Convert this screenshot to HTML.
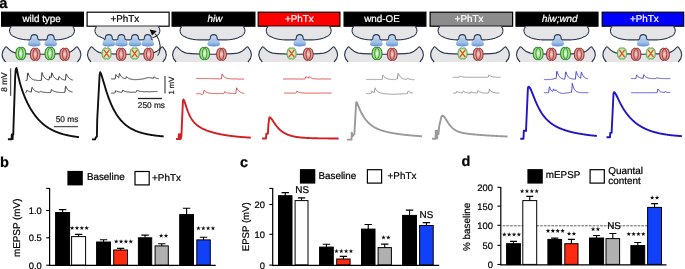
<!DOCTYPE html>
<html><head><meta charset="utf-8"><style>html,body{margin:0;padding:0;background:#fff;overflow:hidden}svg{display:block;text-rendering:geometricPrecision;will-change:transform}text{stroke-width:0.22px}</style></head>
<body><svg width="685" height="269" viewBox="0 0 685 269" font-family="Liberation Sans, sans-serif"><rect width="685" height="269" fill="#fff"/><defs>
<radialGradient id="gG" cx="0.5" cy="0.5" r="0.6"><stop offset="0" stop-color="#e2ffd4"/><stop offset="0.5" stop-color="#a6e590"/><stop offset="1" stop-color="#4aa844"/></radialGradient>
<radialGradient id="gR" cx="0.5" cy="0.5" r="0.6"><stop offset="0" stop-color="#f8d2ce"/><stop offset="0.5" stop-color="#dc928e"/><stop offset="1" stop-color="#ac4a46"/></radialGradient>
<radialGradient id="gGx" cx="0.5" cy="0.5" r="0.6"><stop offset="0" stop-color="#f4ffe0"/><stop offset="0.6" stop-color="#c6ebb0"/><stop offset="1" stop-color="#7cc070"/></radialGradient>
<linearGradient id="gB" x1="0" y1="0" x2="0" y2="1"><stop offset="0" stop-color="#cfe0f5"/><stop offset="0.6" stop-color="#b4cdef"/><stop offset="1" stop-color="#9dbde8"/></linearGradient>
<linearGradient id="gBase" x1="0" y1="0" x2="0" y2="1"><stop offset="0" stop-color="#c2d6f0"/><stop offset="0.55" stop-color="#94b6e3"/><stop offset="1" stop-color="#6090d0"/></linearGradient>
<filter id="blur" x="-20%" y="-40%" width="140%" height="180%"><feGaussianBlur stdDeviation="0.35"/></filter>
</defs><text x="-0.8" y="8.2" font-size="14.8" font-weight="bold" stroke="#000">a</text><rect x="1.60" y="12.2" width="81.80" height="14.0" fill="#000" stroke="#000" stroke-width="1.2"/><text x="41.60" y="22.2" font-size="9.85" fill="#fff" text-anchor="middle" stroke="#fff">wild type</text><rect x="87.10" y="12.2" width="82.00" height="14.0" fill="#fff" stroke="#000" stroke-width="1.2"/><text x="124.80" y="22.2" font-size="9.85" fill="#000" text-anchor="middle" stroke="#000">+PhTx</text><rect x="172.10" y="12.2" width="82.80" height="14.0" fill="#000" stroke="#000" stroke-width="1.2"/><text x="214.90" y="22.2" font-size="9.85" fill="#fff" text-anchor="middle" font-style="italic" stroke="#fff">hiw</text><rect x="258.20" y="12.2" width="81.70" height="14.0" fill="#ff0000" stroke="#000" stroke-width="1.2"/><text x="299.40" y="22.2" font-size="9.85" fill="#fff" text-anchor="middle" stroke="#fff">+PhTx</text><rect x="344.10" y="12.2" width="81.80" height="14.0" fill="#000" stroke="#000" stroke-width="1.2"/><text x="382.00" y="22.2" font-size="9.85" fill="#fff" text-anchor="middle" stroke="#fff">wnd-OE</text><rect x="430.10" y="12.2" width="82.50" height="14.0" fill="#8c8c8c" stroke="#000" stroke-width="1.2"/><text x="469.10" y="22.2" font-size="9.85" fill="#fff" text-anchor="middle" stroke="#fff">+PhTx</text><rect x="516.00" y="12.2" width="82.00" height="14.0" fill="#000" stroke="#000" stroke-width="1.2"/><text x="559.70" y="22.2" font-size="9.85" fill="#fff" text-anchor="middle" font-style="italic" stroke="#fff">hiw;wnd</text><rect x="602.20" y="12.2" width="81.50" height="14.0" fill="#0000ff" stroke="#000" stroke-width="1.2"/><text x="644.30" y="22.2" font-size="9.85" fill="#fff" text-anchor="middle" stroke="#fff">+PhTx</text><path d="M11.30,26.5 C8.30,29.5 9.30,34.5 13.90,36.6 C18.00,38.8 23.00,39.7 29.00,39.9 L55.00,39.9 C61.00,39.7 66.00,38.6 70.10,36.6 C74.70,34.5 75.70,29.5 72.70,26.5 Z" fill="#e5e5e8"/><path d="M29.90,39.8 L38.70,39.8 C39.80,40.6 40.60,42.6 40.60,44.2 C40.60,45.9 37.30,46.4 34.30,46.4 C31.30,46.4 28.00,45.9 28.00,44.2 C28.00,42.6 28.80,40.6 29.90,39.8 Z" fill="url(#gBase)" filter="url(#blur)"/><path d="M30.90,41.2 L30.90,38 C30.90,36.1 32.42,34.6 34.30,34.6 C36.18,34.6 37.70,36.1 37.70,38 L37.70,41.2 Z" fill="url(#gB)"/><path d="M46.30,39.8 L55.10,39.8 C56.20,40.6 57.00,42.6 57.00,44.2 C57.00,45.9 53.70,46.4 50.70,46.4 C47.70,46.4 44.40,45.9 44.40,44.2 C44.40,42.6 45.20,40.6 46.30,39.8 Z" fill="url(#gBase)" filter="url(#blur)"/><path d="M47.30,41.2 L47.30,38 C47.30,36.1 48.82,34.6 50.70,34.6 C52.58,34.6 54.10,36.1 54.10,38 L54.10,41.2 Z" fill="url(#gB)"/><path d="M11.30,26.50 L10.95,26.89 L10.63,27.29 L10.36,27.71 L10.13,28.14 L9.94,28.59 L9.79,29.05 L9.69,29.51 L9.62,29.99 L9.59,30.46 L9.60,30.94 L9.66,31.41 L9.75,31.89 L9.88,32.36 L10.05,32.82 L10.26,33.27 L10.51,33.71 L10.80,34.14 L11.13,34.56 L11.50,34.95 L11.90,35.33 L12.34,35.69 L12.83,36.02 L13.34,36.32 L13.90,36.60 L14.42,36.87 L14.94,37.12 L15.48,37.37 L16.03,37.59 L16.58,37.81 L17.15,38.02 L17.72,38.21 L18.30,38.39 L18.90,38.56 L19.50,38.72 L20.11,38.86 L20.74,39.00 L21.37,39.13 L22.01,39.24 L22.67,39.35 L23.33,39.44 L24.00,39.53 L24.69,39.61 L25.38,39.68 L26.08,39.74 L26.80,39.79 L27.52,39.84 L28.26,39.87 L29.00,39.90 L29.50,39.90 L30.00,39.90 M38.50,39.90 L39.00,39.90 L39.50,39.90 L40.00,39.90 L40.50,39.90 L41.00,39.90 L41.50,39.90 L42.00,39.90 L42.50,39.90 L43.00,39.90 L43.50,39.90 L44.00,39.90 L44.50,39.90 L45.00,39.90 L45.50,39.90 L46.00,39.90 L46.50,39.90 M55.00,39.90 L55.74,39.87 L56.48,39.84 L57.20,39.79 L57.92,39.74 L58.62,39.68 L59.31,39.61 L60.00,39.53 L60.67,39.44 L61.33,39.35 L61.99,39.24 L62.63,39.13 L63.26,39.00 L63.89,38.86 L64.50,38.72 L65.10,38.56 L65.70,38.39 L66.28,38.21 L66.85,38.02 L67.42,37.81 L67.97,37.59 L68.52,37.37 L69.06,37.12 L69.58,36.87 L70.10,36.60 L70.66,36.32 L71.17,36.02 L71.66,35.69 L72.10,35.33 L72.50,34.95 L72.87,34.56 L73.20,34.14 L73.49,33.71 L73.74,33.27 L73.95,32.82 L74.12,32.36 L74.25,31.89 L74.34,31.41 L74.40,30.94 L74.41,30.46 L74.38,29.99 L74.31,29.51 L74.21,29.05 L74.06,28.59 L73.87,28.14 L73.64,27.71 L73.37,27.29 L73.05,26.89 L72.70,26.50 M29.30,39.9 C30.50,39.9 30.90,39 30.90,38 C30.90,36.1 32.42,34.6 34.30,34.6 C36.18,34.6 37.70,36.1 37.70,38 C37.70,39 38.10,39.9 39.30,39.9 M45.70,39.9 C46.90,39.9 47.30,39 47.30,38 C47.30,36.1 48.82,34.6 50.70,34.6 C52.58,34.6 54.10,36.1 54.10,38 C54.10,39 54.50,39.9 55.70,39.9 " fill="none" stroke="#2e3a50" stroke-width="1.1" stroke-linejoin="round"/><path d="M5.60,62 C2.20,58.5 0.40,53 5.40,47.2 C5.80,46.7 6.30,46.7 6.80,47.2 C9.00,49.6 12.00,52.4 16.00,53.1 C27.00,54.6 56.00,54.6 67.00,53.1 C71.00,52.4 74.00,49.6 76.20,47.2 C76.70,46.7 77.20,46.7 77.60,47.2 C82.60,53 80.80,58.5 77.40,62 Z" fill="#e5e5e8"/><path d="M5.60,62 C2.20,58.5 0.40,53 5.40,47.2 C5.80,46.7 6.30,46.7 6.80,47.2 C9.00,49.6 12.00,52.4 16.00,53.1 C27.00,54.6 56.00,54.6 67.00,53.1 C71.00,52.4 74.00,49.6 76.20,47.2 C76.70,46.7 77.20,46.7 77.60,47.2 C82.60,53 80.80,58.5 77.40,62" fill="none" stroke="#2e3a50" stroke-width="1.1"/><path d="M20.80,47.75 C22.20,46.65 25.75,47.45 25.75,53.50 C25.75,59.55 22.20,60.35 20.80,59.25 C19.40,60.35 15.85,59.55 15.85,53.50 C15.85,47.45 19.40,46.65 20.80,47.75Z" fill="url(#gG)" stroke="#237a20" stroke-width="0.95"/><path d="M20.35,47.75 C17.90,50.50 17.90,56.50 20.35,59.25" stroke="#2a8226" stroke-width="0.85" fill="none"/><path d="M21.25,47.75 C23.70,50.50 23.70,56.50 21.25,59.25" stroke="#2a8226" stroke-width="0.85" fill="none"/><path d="M19.38,48.05 C16.25,50.50 16.25,56.50 19.38,58.95" stroke="#b6eaa0" stroke-width="0.7" fill="none"/><path d="M22.22,48.05 C25.35,50.50 25.35,56.50 22.22,58.95" stroke="#b6eaa0" stroke-width="0.7" fill="none"/><path d="M35.20,48.60 C36.60,47.50 40.05,48.30 40.05,54.30 C40.05,60.30 36.60,61.10 35.20,60.00 C33.80,61.10 30.35,60.30 30.35,54.30 C30.35,48.30 33.80,47.50 35.20,48.60Z" fill="url(#gR)" stroke="#8e2e2c" stroke-width="0.95"/><path d="M34.76,48.60 C32.36,51.30 32.36,57.30 34.76,60.00" stroke="#922e2e" stroke-width="0.85" fill="none"/><path d="M35.64,48.60 C38.04,51.30 38.04,57.30 35.64,60.00" stroke="#922e2e" stroke-width="0.85" fill="none"/><path d="M33.81,48.90 C30.75,51.30 30.75,57.30 33.81,59.70" stroke="#eab4b0" stroke-width="0.7" fill="none"/><path d="M36.59,48.90 C39.65,51.30 39.65,57.30 36.59,59.70" stroke="#eab4b0" stroke-width="0.7" fill="none"/><path d="M50.00,47.75 C51.40,46.65 54.95,47.45 54.95,53.50 C54.95,59.55 51.40,60.35 50.00,59.25 C48.60,60.35 45.05,59.55 45.05,53.50 C45.05,47.45 48.60,46.65 50.00,47.75Z" fill="url(#gG)" stroke="#237a20" stroke-width="0.95"/><path d="M49.55,47.75 C47.10,50.50 47.10,56.50 49.55,59.25" stroke="#2a8226" stroke-width="0.85" fill="none"/><path d="M50.45,47.75 C52.90,50.50 52.90,56.50 50.45,59.25" stroke="#2a8226" stroke-width="0.85" fill="none"/><path d="M48.58,48.05 C45.45,50.50 45.45,56.50 48.58,58.95" stroke="#b6eaa0" stroke-width="0.7" fill="none"/><path d="M51.42,48.05 C54.55,50.50 54.55,56.50 51.42,58.95" stroke="#b6eaa0" stroke-width="0.7" fill="none"/><path d="M64.70,48.60 C66.10,47.50 69.55,48.30 69.55,54.30 C69.55,60.30 66.10,61.10 64.70,60.00 C63.30,61.10 59.85,60.30 59.85,54.30 C59.85,48.30 63.30,47.50 64.70,48.60Z" fill="url(#gR)" stroke="#8e2e2c" stroke-width="0.95"/><path d="M64.26,48.60 C61.86,51.30 61.86,57.30 64.26,60.00" stroke="#922e2e" stroke-width="0.85" fill="none"/><path d="M65.14,48.60 C67.54,51.30 67.54,57.30 65.14,60.00" stroke="#922e2e" stroke-width="0.85" fill="none"/><path d="M63.31,48.90 C60.25,51.30 60.25,57.30 63.31,59.70" stroke="#eab4b0" stroke-width="0.7" fill="none"/><path d="M66.09,48.90 C69.15,51.30 69.15,57.30 66.09,59.70" stroke="#eab4b0" stroke-width="0.7" fill="none"/><path d="M96.70,26.5 C93.70,29.5 94.70,34.5 99.30,36.6 C103.40,38.8 108.40,39.7 114.40,39.9 L140.40,39.9 C146.40,39.7 151.40,38.6 155.50,36.6 C160.10,34.5 161.10,29.5 158.10,26.5 Z" fill="#e5e5e8"/><path d="M104.40,39.8 L113.20,39.8 C114.30,40.6 115.10,42.6 115.10,44.2 C115.10,45.9 111.80,46.4 108.80,46.4 C105.80,46.4 102.50,45.9 102.50,44.2 C102.50,42.6 103.30,40.6 104.40,39.8 Z" fill="url(#gBase)" filter="url(#blur)"/><path d="M105.40,41.2 L105.40,38 C105.40,36.1 106.92,34.6 108.80,34.6 C110.68,34.6 112.20,36.1 112.20,38 L112.20,41.2 Z" fill="url(#gB)"/><path d="M117.00,39.8 L125.80,39.8 C126.90,40.6 127.70,42.6 127.70,44.2 C127.70,45.9 124.40,46.4 121.40,46.4 C118.40,46.4 115.10,45.9 115.10,44.2 C115.10,42.6 115.90,40.6 117.00,39.8 Z" fill="url(#gBase)" filter="url(#blur)"/><path d="M118.00,41.2 L118.00,38 C118.00,36.1 119.52,34.6 121.40,34.6 C123.28,34.6 124.80,36.1 124.80,38 L124.80,41.2 Z" fill="url(#gB)"/><path d="M130.60,39.8 L139.40,39.8 C140.50,40.6 141.30,42.6 141.30,44.2 C141.30,45.9 138.00,46.4 135.00,46.4 C132.00,46.4 128.70,45.9 128.70,44.2 C128.70,42.6 129.50,40.6 130.60,39.8 Z" fill="url(#gBase)" filter="url(#blur)"/><path d="M131.60,41.2 L131.60,38 C131.60,36.1 133.12,34.6 135.00,34.6 C136.88,34.6 138.40,36.1 138.40,38 L138.40,41.2 Z" fill="url(#gB)"/><path d="M143.40,39.8 L152.20,39.8 C153.30,40.6 154.10,42.6 154.10,44.2 C154.10,45.9 150.80,46.4 147.80,46.4 C144.80,46.4 141.50,45.9 141.50,44.2 C141.50,42.6 142.30,40.6 143.40,39.8 Z" fill="url(#gBase)" filter="url(#blur)"/><path d="M144.40,41.2 L144.40,38 C144.40,36.1 145.92,34.6 147.80,34.6 C149.68,34.6 151.20,36.1 151.20,38 L151.20,41.2 Z" fill="url(#gB)"/><path d="M96.70,26.50 L96.35,26.89 L96.03,27.29 L95.76,27.71 L95.53,28.14 L95.34,28.59 L95.19,29.05 L95.09,29.51 L95.02,29.99 L94.99,30.46 L95.00,30.94 L95.06,31.41 L95.15,31.89 L95.28,32.36 L95.45,32.82 L95.66,33.27 L95.91,33.71 L96.20,34.14 L96.53,34.56 L96.90,34.95 L97.30,35.33 L97.74,35.69 L98.23,36.02 L98.74,36.32 L99.30,36.60 L99.82,36.87 L100.34,37.12 L100.88,37.37 L101.43,37.59 L101.98,37.81 L102.55,38.02 L103.12,38.21 L103.70,38.39 L104.30,38.56 M113.66,39.87 L114.40,39.90 L114.90,39.90 L115.40,39.90 L115.90,39.90 L116.40,39.90 L116.90,39.90 M125.90,39.90 L126.40,39.90 L126.90,39.90 L127.40,39.90 L127.90,39.90 L128.40,39.90 L128.90,39.90 L129.40,39.90 L129.90,39.90 L130.40,39.90 M139.40,39.90 L139.90,39.90 L140.40,39.90 L141.14,39.87 L141.88,39.84 L142.60,39.79 L143.32,39.74 M152.25,38.02 L152.82,37.81 L153.37,37.59 L153.92,37.37 L154.46,37.12 L154.98,36.87 L155.50,36.60 L156.06,36.32 L156.57,36.02 L157.06,35.69 L157.50,35.33 L157.90,34.95 L158.27,34.56 L158.60,34.14 L158.89,33.71 L159.14,33.27 L159.35,32.82 L159.52,32.36 L159.65,31.89 L159.74,31.41 L159.80,30.94 L159.81,30.46 L159.78,29.99 L159.71,29.51 L159.61,29.05 L159.46,28.59 L159.27,28.14 L159.04,27.71 L158.77,27.29 L158.45,26.89 L158.10,26.50 M103.80,39.9 C105.00,39.9 105.40,39 105.40,38 C105.40,36.1 106.92,34.6 108.80,34.6 C110.68,34.6 112.20,36.1 112.20,38 C112.20,39 112.60,39.9 113.80,39.9 M116.40,39.9 C117.60,39.9 118.00,39 118.00,38 C118.00,36.1 119.52,34.6 121.40,34.6 C123.28,34.6 124.80,36.1 124.80,38 C124.80,39 125.20,39.9 126.40,39.9 M130.00,39.9 C131.20,39.9 131.60,39 131.60,38 C131.60,36.1 133.12,34.6 135.00,34.6 C136.88,34.6 138.40,36.1 138.40,38 C138.40,39 138.80,39.9 140.00,39.9 M142.80,39.9 C144.00,39.9 144.40,39 144.40,38 C144.40,36.1 145.92,34.6 147.80,34.6 C149.68,34.6 151.20,36.1 151.20,38 C151.20,39 151.60,39.9 152.80,39.9 " fill="none" stroke="#2e3a50" stroke-width="1.1" stroke-linejoin="round"/><path d="M91.00,62 C87.60,58.5 85.80,53 90.80,47.2 C91.20,46.7 91.70,46.7 92.20,47.2 C94.40,49.6 97.40,52.4 101.40,53.1 C112.40,54.6 141.40,54.6 152.40,53.1 C156.40,52.4 159.40,49.6 161.60,47.2 C162.10,46.7 162.60,46.7 163.00,47.2 C168.00,53 166.20,58.5 162.80,62 Z" fill="#e5e5e8"/><path d="M91.00,62 C87.60,58.5 85.80,53 90.80,47.2 C91.20,46.7 91.70,46.7 92.20,47.2 C94.40,49.6 97.40,52.4 101.40,53.1 C112.40,54.6 141.40,54.6 152.40,53.1 C156.40,52.4 159.40,49.6 161.60,47.2 C162.10,46.7 162.60,46.7 163.00,47.2 C168.00,53 166.20,58.5 162.80,62" fill="none" stroke="#2e3a50" stroke-width="1.1"/><path d="M106.60,48.30 C108.00,47.20 111.20,48.00 111.20,53.50 C111.20,59.00 108.00,59.80 106.60,58.70 C105.20,59.80 102.00,59.00 102.00,53.50 C102.00,48.00 105.20,47.20 106.60,48.30Z" fill="url(#gGx)" stroke="#64a858" stroke-width="0.95"/><path d="M103.90,49.90 L109.30,57.10 M109.30,49.90 L103.90,57.10" stroke="#ec4a26" stroke-width="1.35"/><path d="M121.10,48.60 C122.50,47.50 125.95,48.30 125.95,54.30 C125.95,60.30 122.50,61.10 121.10,60.00 C119.70,61.10 116.25,60.30 116.25,54.30 C116.25,48.30 119.70,47.50 121.10,48.60Z" fill="url(#gR)" stroke="#8e2e2c" stroke-width="0.95"/><path d="M120.66,48.60 C118.26,51.30 118.26,57.30 120.66,60.00" stroke="#922e2e" stroke-width="0.85" fill="none"/><path d="M121.54,48.60 C123.94,51.30 123.94,57.30 121.54,60.00" stroke="#922e2e" stroke-width="0.85" fill="none"/><path d="M119.71,48.90 C116.65,51.30 116.65,57.30 119.71,59.70" stroke="#eab4b0" stroke-width="0.7" fill="none"/><path d="M122.49,48.90 C125.55,51.30 125.55,57.30 122.49,59.70" stroke="#eab4b0" stroke-width="0.7" fill="none"/><path d="M134.70,48.30 C136.10,47.20 139.30,48.00 139.30,53.50 C139.30,59.00 136.10,59.80 134.70,58.70 C133.30,59.80 130.10,59.00 130.10,53.50 C130.10,48.00 133.30,47.20 134.70,48.30Z" fill="url(#gGx)" stroke="#64a858" stroke-width="0.95"/><path d="M132.00,49.90 L137.40,57.10 M137.40,49.90 L132.00,57.10" stroke="#ec4a26" stroke-width="1.35"/><path d="M148.70,48.60 C150.10,47.50 153.55,48.30 153.55,54.30 C153.55,60.30 150.10,61.10 148.70,60.00 C147.30,61.10 143.85,60.30 143.85,54.30 C143.85,48.30 147.30,47.50 148.70,48.60Z" fill="url(#gR)" stroke="#8e2e2c" stroke-width="0.95"/><path d="M148.26,48.60 C145.86,51.30 145.86,57.30 148.26,60.00" stroke="#922e2e" stroke-width="0.85" fill="none"/><path d="M149.14,48.60 C151.54,51.30 151.54,57.30 149.14,60.00" stroke="#922e2e" stroke-width="0.85" fill="none"/><path d="M147.31,48.90 C144.25,51.30 144.25,57.30 147.31,59.70" stroke="#eab4b0" stroke-width="0.7" fill="none"/><path d="M150.09,48.90 C153.15,51.30 153.15,57.30 150.09,59.70" stroke="#eab4b0" stroke-width="0.7" fill="none"/><path d="M157.7,55.5 C161.2,51 161.4,41 155.0,33.6" fill="none" stroke="#111" stroke-width="1.0"/><path d="M149.7,29.6 L156.8,31.0 L152.0,35.6 Z" fill="#111"/><path d="M181.80,26.5 C178.80,29.5 179.80,34.5 184.40,36.6 C188.50,38.8 193.50,39.7 199.50,39.9 L225.50,39.9 C231.50,39.7 236.50,38.6 240.60,36.6 C245.20,34.5 246.20,29.5 243.20,26.5 Z" fill="#e5e5e8"/><path d="M209.30,39.8 L218.10,39.8 C219.20,40.6 220.00,42.6 220.00,44.2 C220.00,45.9 216.70,46.4 213.70,46.4 C210.70,46.4 207.40,45.9 207.40,44.2 C207.40,42.6 208.20,40.6 209.30,39.8 Z" fill="url(#gBase)" filter="url(#blur)"/><path d="M210.30,41.2 L210.30,38 C210.30,36.1 211.82,34.6 213.70,34.6 C215.58,34.6 217.10,36.1 217.10,38 L217.10,41.2 Z" fill="url(#gB)"/><path d="M181.80,26.50 L181.45,26.89 L181.13,27.29 L180.86,27.71 L180.63,28.14 L180.44,28.59 L180.29,29.05 L180.19,29.51 L180.12,29.99 L180.09,30.46 L180.10,30.94 L180.16,31.41 L180.25,31.89 L180.38,32.36 L180.55,32.82 L180.76,33.27 L181.01,33.71 L181.30,34.14 L181.63,34.56 L182.00,34.95 L182.40,35.33 L182.84,35.69 L183.33,36.02 L183.84,36.32 L184.40,36.60 L184.92,36.87 L185.44,37.12 L185.98,37.37 L186.53,37.59 L187.08,37.81 L187.65,38.02 L188.22,38.21 L188.80,38.39 L189.40,38.56 L190.00,38.72 L190.61,38.86 L191.24,39.00 L191.87,39.13 L192.51,39.24 L193.17,39.35 L193.83,39.44 L194.50,39.53 L195.19,39.61 L195.88,39.68 L196.58,39.74 L197.30,39.79 L198.02,39.84 L198.76,39.87 L199.50,39.90 L200.00,39.90 L200.50,39.90 L201.00,39.90 L201.50,39.90 L202.00,39.90 L202.50,39.90 L203.00,39.90 L203.50,39.90 L204.00,39.90 L204.50,39.90 L205.00,39.90 L205.50,39.90 L206.00,39.90 L206.50,39.90 L207.00,39.90 L207.50,39.90 L208.00,39.90 L208.50,39.90 L209.00,39.90 M218.00,39.90 L218.50,39.90 L219.00,39.90 L219.50,39.90 L220.00,39.90 L220.50,39.90 L221.00,39.90 L221.50,39.90 L222.00,39.90 L222.50,39.90 L223.00,39.90 L223.50,39.90 L224.00,39.90 L224.50,39.90 L225.00,39.90 L225.50,39.90 L226.24,39.87 L226.98,39.84 L227.70,39.79 L228.42,39.74 L229.12,39.68 L229.81,39.61 L230.50,39.53 L231.17,39.44 L231.83,39.35 L232.49,39.24 L233.13,39.13 L233.76,39.00 L234.39,38.86 L235.00,38.72 L235.60,38.56 L236.20,38.39 L236.78,38.21 L237.35,38.02 L237.92,37.81 L238.47,37.59 L239.02,37.37 L239.56,37.12 L240.08,36.87 L240.60,36.60 L241.16,36.32 L241.67,36.02 L242.16,35.69 L242.60,35.33 L243.00,34.95 L243.37,34.56 L243.70,34.14 L243.99,33.71 L244.24,33.27 L244.45,32.82 L244.62,32.36 L244.75,31.89 L244.84,31.41 L244.90,30.94 L244.91,30.46 L244.88,29.99 L244.81,29.51 L244.71,29.05 L244.56,28.59 L244.37,28.14 L244.14,27.71 L243.87,27.29 L243.55,26.89 L243.20,26.50 M208.70,39.9 C209.90,39.9 210.30,39 210.30,38 C210.30,36.1 211.82,34.6 213.70,34.6 C215.58,34.6 217.10,36.1 217.10,38 C217.10,39 217.50,39.9 218.70,39.9 " fill="none" stroke="#2e3a50" stroke-width="1.1" stroke-linejoin="round"/><path d="M176.10,62 C172.70,58.5 170.90,53 175.90,47.2 C176.30,46.7 176.80,46.7 177.30,47.2 C179.50,49.6 182.50,52.4 186.50,53.1 C197.50,54.6 226.50,54.6 237.50,53.1 C241.50,52.4 244.50,49.6 246.70,47.2 C247.20,46.7 247.70,46.7 248.10,47.2 C253.10,53 251.30,58.5 247.90,62 Z" fill="#e5e5e8"/><path d="M176.10,62 C172.70,58.5 170.90,53 175.90,47.2 C176.30,46.7 176.80,46.7 177.30,47.2 C179.50,49.6 182.50,52.4 186.50,53.1 C197.50,54.6 226.50,54.6 237.50,53.1 C241.50,52.4 244.50,49.6 246.70,47.2 C247.20,46.7 247.70,46.7 248.10,47.2 C253.10,53 251.30,58.5 247.90,62" fill="none" stroke="#2e3a50" stroke-width="1.1"/><path d="M204.60,47.75 C206.00,46.65 209.55,47.45 209.55,53.50 C209.55,59.55 206.00,60.35 204.60,59.25 C203.20,60.35 199.65,59.55 199.65,53.50 C199.65,47.45 203.20,46.65 204.60,47.75Z" fill="url(#gG)" stroke="#237a20" stroke-width="0.95"/><path d="M204.15,47.75 C201.70,50.50 201.70,56.50 204.15,59.25" stroke="#2a8226" stroke-width="0.85" fill="none"/><path d="M205.05,47.75 C207.50,50.50 207.50,56.50 205.05,59.25" stroke="#2a8226" stroke-width="0.85" fill="none"/><path d="M203.18,48.05 C200.05,50.50 200.05,56.50 203.18,58.95" stroke="#b6eaa0" stroke-width="0.7" fill="none"/><path d="M206.02,48.05 C209.15,50.50 209.15,56.50 206.02,58.95" stroke="#b6eaa0" stroke-width="0.7" fill="none"/><path d="M221.50,48.60 C222.90,47.50 226.35,48.30 226.35,54.30 C226.35,60.30 222.90,61.10 221.50,60.00 C220.10,61.10 216.65,60.30 216.65,54.30 C216.65,48.30 220.10,47.50 221.50,48.60Z" fill="url(#gR)" stroke="#8e2e2c" stroke-width="0.95"/><path d="M221.06,48.60 C218.66,51.30 218.66,57.30 221.06,60.00" stroke="#922e2e" stroke-width="0.85" fill="none"/><path d="M221.94,48.60 C224.34,51.30 224.34,57.30 221.94,60.00" stroke="#922e2e" stroke-width="0.85" fill="none"/><path d="M220.11,48.90 C217.05,51.30 217.05,57.30 220.11,59.70" stroke="#eab4b0" stroke-width="0.7" fill="none"/><path d="M222.89,48.90 C225.95,51.30 225.95,57.30 222.89,59.70" stroke="#eab4b0" stroke-width="0.7" fill="none"/><path d="M268.00,26.5 C265.00,29.5 266.00,34.5 270.60,36.6 C274.70,38.8 279.70,39.7 285.70,39.9 L311.70,39.9 C317.70,39.7 322.70,38.6 326.80,36.6 C331.40,34.5 332.40,29.5 329.40,26.5 Z" fill="#e5e5e8"/><path d="M295.30,39.8 L304.10,39.8 C305.20,40.6 306.00,42.6 306.00,44.2 C306.00,45.9 302.70,46.4 299.70,46.4 C296.70,46.4 293.40,45.9 293.40,44.2 C293.40,42.6 294.20,40.6 295.30,39.8 Z" fill="url(#gBase)" filter="url(#blur)"/><path d="M296.30,41.2 L296.30,38 C296.30,36.1 297.82,34.6 299.70,34.6 C301.58,34.6 303.10,36.1 303.10,38 L303.10,41.2 Z" fill="url(#gB)"/><path d="M268.00,26.50 L267.65,26.89 L267.33,27.29 L267.06,27.71 L266.83,28.14 L266.64,28.59 L266.49,29.05 L266.39,29.51 L266.32,29.99 L266.29,30.46 L266.30,30.94 L266.36,31.41 L266.45,31.89 L266.58,32.36 L266.75,32.82 L266.96,33.27 L267.21,33.71 L267.50,34.14 L267.83,34.56 L268.20,34.95 L268.60,35.33 L269.04,35.69 L269.53,36.02 L270.04,36.32 L270.60,36.60 L271.12,36.87 L271.64,37.12 L272.18,37.37 L272.73,37.59 L273.28,37.81 L273.85,38.02 L274.42,38.21 L275.00,38.39 L275.60,38.56 L276.20,38.72 L276.81,38.86 L277.44,39.00 L278.07,39.13 L278.71,39.24 L279.37,39.35 L280.03,39.44 L280.70,39.53 L281.39,39.61 L282.08,39.68 L282.78,39.74 L283.50,39.79 L284.22,39.84 L284.96,39.87 L285.70,39.90 L286.20,39.90 L286.70,39.90 L287.20,39.90 L287.70,39.90 L288.20,39.90 L288.70,39.90 L289.20,39.90 L289.70,39.90 L290.20,39.90 L290.70,39.90 L291.20,39.90 L291.70,39.90 L292.20,39.90 L292.70,39.90 L293.20,39.90 L293.70,39.90 L294.20,39.90 L294.70,39.90 L295.20,39.90 M304.20,39.90 L304.70,39.90 L305.20,39.90 L305.70,39.90 L306.20,39.90 L306.70,39.90 L307.20,39.90 L307.70,39.90 L308.20,39.90 L308.70,39.90 L309.20,39.90 L309.70,39.90 L310.20,39.90 L310.70,39.90 L311.20,39.90 L311.70,39.90 L312.44,39.87 L313.18,39.84 L313.90,39.79 L314.62,39.74 L315.32,39.68 L316.01,39.61 L316.70,39.53 L317.37,39.44 L318.03,39.35 L318.69,39.24 L319.33,39.13 L319.96,39.00 L320.59,38.86 L321.20,38.72 L321.80,38.56 L322.40,38.39 L322.98,38.21 L323.55,38.02 L324.12,37.81 L324.67,37.59 L325.22,37.37 L325.76,37.12 L326.28,36.87 L326.80,36.60 L327.36,36.32 L327.87,36.02 L328.36,35.69 L328.80,35.33 L329.20,34.95 L329.57,34.56 L329.90,34.14 L330.19,33.71 L330.44,33.27 L330.65,32.82 L330.82,32.36 L330.95,31.89 L331.04,31.41 L331.10,30.94 L331.11,30.46 L331.08,29.99 L331.01,29.51 L330.91,29.05 L330.76,28.59 L330.57,28.14 L330.34,27.71 L330.07,27.29 L329.75,26.89 L329.40,26.50 M294.70,39.9 C295.90,39.9 296.30,39 296.30,38 C296.30,36.1 297.82,34.6 299.70,34.6 C301.58,34.6 303.10,36.1 303.10,38 C303.10,39 303.50,39.9 304.70,39.9 " fill="none" stroke="#2e3a50" stroke-width="1.1" stroke-linejoin="round"/><path d="M262.30,62 C258.90,58.5 257.10,53 262.10,47.2 C262.50,46.7 263.00,46.7 263.50,47.2 C265.70,49.6 268.70,52.4 272.70,53.1 C283.70,54.6 312.70,54.6 323.70,53.1 C327.70,52.4 330.70,49.6 332.90,47.2 C333.40,46.7 333.90,46.7 334.30,47.2 C339.30,53 337.50,58.5 334.10,62 Z" fill="#e5e5e8"/><path d="M262.30,62 C258.90,58.5 257.10,53 262.10,47.2 C262.50,46.7 263.00,46.7 263.50,47.2 C265.70,49.6 268.70,52.4 272.70,53.1 C283.70,54.6 312.70,54.6 323.70,53.1 C327.70,52.4 330.70,49.6 332.90,47.2 C333.40,46.7 333.90,46.7 334.30,47.2 C339.30,53 337.50,58.5 334.10,62" fill="none" stroke="#2e3a50" stroke-width="1.1"/><path d="M291.60,48.30 C293.00,47.20 296.20,48.00 296.20,53.50 C296.20,59.00 293.00,59.80 291.60,58.70 C290.20,59.80 287.00,59.00 287.00,53.50 C287.00,48.00 290.20,47.20 291.60,48.30Z" fill="url(#gGx)" stroke="#64a858" stroke-width="0.95"/><path d="M288.90,49.90 L294.30,57.10 M294.30,49.90 L288.90,57.10" stroke="#ec4a26" stroke-width="1.35"/><path d="M308.30,48.60 C309.70,47.50 313.15,48.30 313.15,54.30 C313.15,60.30 309.70,61.10 308.30,60.00 C306.90,61.10 303.45,60.30 303.45,54.30 C303.45,48.30 306.90,47.50 308.30,48.60Z" fill="url(#gR)" stroke="#8e2e2c" stroke-width="0.95"/><path d="M307.86,48.60 C305.46,51.30 305.46,57.30 307.86,60.00" stroke="#922e2e" stroke-width="0.85" fill="none"/><path d="M308.74,48.60 C311.14,51.30 311.14,57.30 308.74,60.00" stroke="#922e2e" stroke-width="0.85" fill="none"/><path d="M306.91,48.90 C303.85,51.30 303.85,57.30 306.91,59.70" stroke="#eab4b0" stroke-width="0.7" fill="none"/><path d="M309.69,48.90 C312.75,51.30 312.75,57.30 309.69,59.70" stroke="#eab4b0" stroke-width="0.7" fill="none"/><path d="M353.80,26.5 C350.80,29.5 351.80,34.5 356.40,36.6 C360.50,38.8 365.50,39.7 371.50,39.9 L397.50,39.9 C403.50,39.7 408.50,38.6 412.60,36.6 C417.20,34.5 418.20,29.5 415.20,26.5 Z" fill="#e5e5e8"/><path d="M371.90,39.8 L380.70,39.8 C381.80,40.6 382.60,42.6 382.60,44.2 C382.60,45.9 379.30,46.4 376.30,46.4 C373.30,46.4 370.00,45.9 370.00,44.2 C370.00,42.6 370.80,40.6 371.90,39.8 Z" fill="url(#gBase)" filter="url(#blur)"/><path d="M372.90,41.2 L372.90,38 C372.90,36.1 374.42,34.6 376.30,34.6 C378.18,34.6 379.70,36.1 379.70,38 L379.70,41.2 Z" fill="url(#gB)"/><path d="M387.60,39.8 L396.40,39.8 C397.50,40.6 398.30,42.6 398.30,44.2 C398.30,45.9 395.00,46.4 392.00,46.4 C389.00,46.4 385.70,45.9 385.70,44.2 C385.70,42.6 386.50,40.6 387.60,39.8 Z" fill="url(#gBase)" filter="url(#blur)"/><path d="M388.60,41.2 L388.60,38 C388.60,36.1 390.12,34.6 392.00,34.6 C393.88,34.6 395.40,36.1 395.40,38 L395.40,41.2 Z" fill="url(#gB)"/><path d="M353.80,26.50 L353.45,26.89 L353.13,27.29 L352.86,27.71 L352.63,28.14 L352.44,28.59 L352.29,29.05 L352.19,29.51 L352.12,29.99 L352.09,30.46 L352.10,30.94 L352.16,31.41 L352.25,31.89 L352.38,32.36 L352.55,32.82 L352.76,33.27 L353.01,33.71 L353.30,34.14 L353.63,34.56 L354.00,34.95 L354.40,35.33 L354.84,35.69 L355.33,36.02 L355.84,36.32 L356.40,36.60 L356.92,36.87 L357.44,37.12 L357.98,37.37 L358.53,37.59 L359.08,37.81 L359.65,38.02 L360.22,38.21 L360.80,38.39 L361.40,38.56 L362.00,38.72 L362.61,38.86 L363.24,39.00 L363.87,39.13 L364.51,39.24 L365.17,39.35 L365.83,39.44 L366.50,39.53 L367.19,39.61 L367.88,39.68 L368.58,39.74 L369.30,39.79 L370.02,39.84 L370.76,39.87 L371.50,39.90 L372.00,39.90 M381.00,39.90 L381.50,39.90 L382.00,39.90 L382.50,39.90 L383.00,39.90 L383.50,39.90 L384.00,39.90 L384.50,39.90 L385.00,39.90 L385.50,39.90 L386.00,39.90 L386.50,39.90 L387.00,39.90 L387.50,39.90 M396.50,39.90 L397.00,39.90 L397.50,39.90 L398.24,39.87 L398.98,39.84 L399.70,39.79 L400.42,39.74 L401.12,39.68 L401.81,39.61 L402.50,39.53 L403.17,39.44 L403.83,39.35 L404.49,39.24 L405.13,39.13 L405.76,39.00 L406.39,38.86 L407.00,38.72 L407.60,38.56 L408.20,38.39 L408.78,38.21 L409.35,38.02 L409.92,37.81 L410.47,37.59 L411.02,37.37 L411.56,37.12 L412.08,36.87 L412.60,36.60 L413.16,36.32 L413.67,36.02 L414.16,35.69 L414.60,35.33 L415.00,34.95 L415.37,34.56 L415.70,34.14 L415.99,33.71 L416.24,33.27 L416.45,32.82 L416.62,32.36 L416.75,31.89 L416.84,31.41 L416.90,30.94 L416.91,30.46 L416.88,29.99 L416.81,29.51 L416.71,29.05 L416.56,28.59 L416.37,28.14 L416.14,27.71 L415.87,27.29 L415.55,26.89 L415.20,26.50 M371.30,39.9 C372.50,39.9 372.90,39 372.90,38 C372.90,36.1 374.42,34.6 376.30,34.6 C378.18,34.6 379.70,36.1 379.70,38 C379.70,39 380.10,39.9 381.30,39.9 M387.00,39.9 C388.20,39.9 388.60,39 388.60,38 C388.60,36.1 390.12,34.6 392.00,34.6 C393.88,34.6 395.40,36.1 395.40,38 C395.40,39 395.80,39.9 397.00,39.9 " fill="none" stroke="#2e3a50" stroke-width="1.1" stroke-linejoin="round"/><path d="M348.10,62 C344.70,58.5 342.90,53 347.90,47.2 C348.30,46.7 348.80,46.7 349.30,47.2 C351.50,49.6 354.50,52.4 358.50,53.1 C369.50,54.6 398.50,54.6 409.50,53.1 C413.50,52.4 416.50,49.6 418.70,47.2 C419.20,46.7 419.70,46.7 420.10,47.2 C425.10,53 423.30,58.5 419.90,62 Z" fill="#e5e5e8"/><path d="M348.10,62 C344.70,58.5 342.90,53 347.90,47.2 C348.30,46.7 348.80,46.7 349.30,47.2 C351.50,49.6 354.50,52.4 358.50,53.1 C369.50,54.6 398.50,54.6 409.50,53.1 C413.50,52.4 416.50,49.6 418.70,47.2 C419.20,46.7 419.70,46.7 420.10,47.2 C425.10,53 423.30,58.5 419.90,62" fill="none" stroke="#2e3a50" stroke-width="1.1"/><path d="M377.00,47.75 C378.40,46.65 381.95,47.45 381.95,53.50 C381.95,59.55 378.40,60.35 377.00,59.25 C375.60,60.35 372.05,59.55 372.05,53.50 C372.05,47.45 375.60,46.65 377.00,47.75Z" fill="url(#gG)" stroke="#237a20" stroke-width="0.95"/><path d="M376.55,47.75 C374.10,50.50 374.10,56.50 376.55,59.25" stroke="#2a8226" stroke-width="0.85" fill="none"/><path d="M377.45,47.75 C379.90,50.50 379.90,56.50 377.45,59.25" stroke="#2a8226" stroke-width="0.85" fill="none"/><path d="M375.58,48.05 C372.45,50.50 372.45,56.50 375.58,58.95" stroke="#b6eaa0" stroke-width="0.7" fill="none"/><path d="M378.42,48.05 C381.55,50.50 381.55,56.50 378.42,58.95" stroke="#b6eaa0" stroke-width="0.7" fill="none"/><path d="M392.20,48.60 C393.60,47.50 397.05,48.30 397.05,54.30 C397.05,60.30 393.60,61.10 392.20,60.00 C390.80,61.10 387.35,60.30 387.35,54.30 C387.35,48.30 390.80,47.50 392.20,48.60Z" fill="url(#gR)" stroke="#8e2e2c" stroke-width="0.95"/><path d="M391.76,48.60 C389.36,51.30 389.36,57.30 391.76,60.00" stroke="#922e2e" stroke-width="0.85" fill="none"/><path d="M392.64,48.60 C395.04,51.30 395.04,57.30 392.64,60.00" stroke="#922e2e" stroke-width="0.85" fill="none"/><path d="M390.81,48.90 C387.75,51.30 387.75,57.30 390.81,59.70" stroke="#eab4b0" stroke-width="0.7" fill="none"/><path d="M393.59,48.90 C396.65,51.30 396.65,57.30 393.59,59.70" stroke="#eab4b0" stroke-width="0.7" fill="none"/><path d="M439.80,26.5 C436.80,29.5 437.80,34.5 442.40,36.6 C446.50,38.8 451.50,39.7 457.50,39.9 L483.50,39.9 C489.50,39.7 494.50,38.6 498.60,36.6 C503.20,34.5 504.20,29.5 501.20,26.5 Z" fill="#e5e5e8"/><path d="M457.90,39.8 L466.70,39.8 C467.80,40.6 468.60,42.6 468.60,44.2 C468.60,45.9 465.30,46.4 462.30,46.4 C459.30,46.4 456.00,45.9 456.00,44.2 C456.00,42.6 456.80,40.6 457.90,39.8 Z" fill="url(#gBase)" filter="url(#blur)"/><path d="M458.90,41.2 L458.90,38 C458.90,36.1 460.42,34.6 462.30,34.6 C464.18,34.6 465.70,36.1 465.70,38 L465.70,41.2 Z" fill="url(#gB)"/><path d="M473.20,39.8 L482.00,39.8 C483.10,40.6 483.90,42.6 483.90,44.2 C483.90,45.9 480.60,46.4 477.60,46.4 C474.60,46.4 471.30,45.9 471.30,44.2 C471.30,42.6 472.10,40.6 473.20,39.8 Z" fill="url(#gBase)" filter="url(#blur)"/><path d="M474.20,41.2 L474.20,38 C474.20,36.1 475.72,34.6 477.60,34.6 C479.48,34.6 481.00,36.1 481.00,38 L481.00,41.2 Z" fill="url(#gB)"/><path d="M439.80,26.50 L439.45,26.89 L439.13,27.29 L438.86,27.71 L438.63,28.14 L438.44,28.59 L438.29,29.05 L438.19,29.51 L438.12,29.99 L438.09,30.46 L438.10,30.94 L438.16,31.41 L438.25,31.89 L438.38,32.36 L438.55,32.82 L438.76,33.27 L439.01,33.71 L439.30,34.14 L439.63,34.56 L440.00,34.95 L440.40,35.33 L440.84,35.69 L441.33,36.02 L441.84,36.32 L442.40,36.60 L442.92,36.87 L443.44,37.12 L443.98,37.37 L444.53,37.59 L445.08,37.81 L445.65,38.02 L446.22,38.21 L446.80,38.39 L447.40,38.56 L448.00,38.72 L448.61,38.86 L449.24,39.00 L449.87,39.13 L450.51,39.24 L451.17,39.35 L451.83,39.44 L452.50,39.53 L453.19,39.61 L453.88,39.68 L454.58,39.74 L455.30,39.79 L456.02,39.84 L456.76,39.87 L457.50,39.90 L458.00,39.90 M467.00,39.90 L467.50,39.90 L468.00,39.90 L468.50,39.90 L469.00,39.90 L469.50,39.90 L470.00,39.90 L470.50,39.90 L471.00,39.90 L471.50,39.90 L472.00,39.90 L472.50,39.90 L473.00,39.90 M482.00,39.90 L482.50,39.90 L483.00,39.90 L483.50,39.90 L484.24,39.87 L484.98,39.84 L485.70,39.79 L486.42,39.74 L487.12,39.68 L487.81,39.61 L488.50,39.53 L489.17,39.44 L489.83,39.35 L490.49,39.24 L491.13,39.13 L491.76,39.00 L492.39,38.86 L493.00,38.72 L493.60,38.56 L494.20,38.39 L494.78,38.21 L495.35,38.02 L495.92,37.81 L496.47,37.59 L497.02,37.37 L497.56,37.12 L498.08,36.87 L498.60,36.60 L499.16,36.32 L499.67,36.02 L500.16,35.69 L500.60,35.33 L501.00,34.95 L501.37,34.56 L501.70,34.14 L501.99,33.71 L502.24,33.27 L502.45,32.82 L502.62,32.36 L502.75,31.89 L502.84,31.41 L502.90,30.94 L502.91,30.46 L502.88,29.99 L502.81,29.51 L502.71,29.05 L502.56,28.59 L502.37,28.14 L502.14,27.71 L501.87,27.29 L501.55,26.89 L501.20,26.50 M457.30,39.9 C458.50,39.9 458.90,39 458.90,38 C458.90,36.1 460.42,34.6 462.30,34.6 C464.18,34.6 465.70,36.1 465.70,38 C465.70,39 466.10,39.9 467.30,39.9 M472.60,39.9 C473.80,39.9 474.20,39 474.20,38 C474.20,36.1 475.72,34.6 477.60,34.6 C479.48,34.6 481.00,36.1 481.00,38 C481.00,39 481.40,39.9 482.60,39.9 " fill="none" stroke="#2e3a50" stroke-width="1.1" stroke-linejoin="round"/><path d="M434.10,62 C430.70,58.5 428.90,53 433.90,47.2 C434.30,46.7 434.80,46.7 435.30,47.2 C437.50,49.6 440.50,52.4 444.50,53.1 C455.50,54.6 484.50,54.6 495.50,53.1 C499.50,52.4 502.50,49.6 504.70,47.2 C505.20,46.7 505.70,46.7 506.10,47.2 C511.10,53 509.30,58.5 505.90,62 Z" fill="#e5e5e8"/><path d="M434.10,62 C430.70,58.5 428.90,53 433.90,47.2 C434.30,46.7 434.80,46.7 435.30,47.2 C437.50,49.6 440.50,52.4 444.50,53.1 C455.50,54.6 484.50,54.6 495.50,53.1 C499.50,52.4 502.50,49.6 504.70,47.2 C505.20,46.7 505.70,46.7 506.10,47.2 C511.10,53 509.30,58.5 505.90,62" fill="none" stroke="#2e3a50" stroke-width="1.1"/><path d="M462.60,48.30 C464.00,47.20 467.20,48.00 467.20,53.50 C467.20,59.00 464.00,59.80 462.60,58.70 C461.20,59.80 458.00,59.00 458.00,53.50 C458.00,48.00 461.20,47.20 462.60,48.30Z" fill="url(#gGx)" stroke="#64a858" stroke-width="0.95"/><path d="M459.90,49.90 L465.30,57.10 M465.30,49.90 L459.90,57.10" stroke="#ec4a26" stroke-width="1.35"/><path d="M478.20,48.60 C479.60,47.50 483.05,48.30 483.05,54.30 C483.05,60.30 479.60,61.10 478.20,60.00 C476.80,61.10 473.35,60.30 473.35,54.30 C473.35,48.30 476.80,47.50 478.20,48.60Z" fill="url(#gR)" stroke="#8e2e2c" stroke-width="0.95"/><path d="M477.76,48.60 C475.36,51.30 475.36,57.30 477.76,60.00" stroke="#922e2e" stroke-width="0.85" fill="none"/><path d="M478.64,48.60 C481.04,51.30 481.04,57.30 478.64,60.00" stroke="#922e2e" stroke-width="0.85" fill="none"/><path d="M476.81,48.90 C473.75,51.30 473.75,57.30 476.81,59.70" stroke="#eab4b0" stroke-width="0.7" fill="none"/><path d="M479.59,48.90 C482.65,51.30 482.65,57.30 479.59,59.70" stroke="#eab4b0" stroke-width="0.7" fill="none"/><path d="M525.70,26.5 C522.70,29.5 523.70,34.5 528.30,36.6 C532.40,38.8 537.40,39.7 543.40,39.9 L569.40,39.9 C575.40,39.7 580.40,38.6 584.50,36.6 C589.10,34.5 590.10,29.5 587.10,26.5 Z" fill="#e5e5e8"/><path d="M553.30,39.8 L562.10,39.8 C563.20,40.6 564.00,42.6 564.00,44.2 C564.00,45.9 560.70,46.4 557.70,46.4 C554.70,46.4 551.40,45.9 551.40,44.2 C551.40,42.6 552.20,40.6 553.30,39.8 Z" fill="url(#gBase)" filter="url(#blur)"/><path d="M554.30,41.2 L554.30,38 C554.30,36.1 555.82,34.6 557.70,34.6 C559.58,34.6 561.10,36.1 561.10,38 L561.10,41.2 Z" fill="url(#gB)"/><path d="M525.70,26.50 L525.35,26.89 L525.03,27.29 L524.76,27.71 L524.53,28.14 L524.34,28.59 L524.19,29.05 L524.09,29.51 L524.02,29.99 L523.99,30.46 L524.00,30.94 L524.06,31.41 L524.15,31.89 L524.28,32.36 L524.45,32.82 L524.66,33.27 L524.91,33.71 L525.20,34.14 L525.53,34.56 L525.90,34.95 L526.30,35.33 L526.74,35.69 L527.23,36.02 L527.74,36.32 L528.30,36.60 L528.82,36.87 L529.34,37.12 L529.88,37.37 L530.43,37.59 L530.98,37.81 L531.55,38.02 L532.12,38.21 L532.70,38.39 L533.30,38.56 L533.90,38.72 L534.51,38.86 L535.14,39.00 L535.77,39.13 L536.41,39.24 L537.07,39.35 L537.73,39.44 L538.40,39.53 L539.09,39.61 L539.78,39.68 L540.48,39.74 L541.20,39.79 L541.92,39.84 L542.66,39.87 L543.40,39.90 L543.90,39.90 L544.40,39.90 L544.90,39.90 L545.40,39.90 L545.90,39.90 L546.40,39.90 L546.90,39.90 L547.40,39.90 L547.90,39.90 L548.40,39.90 L548.90,39.90 L549.40,39.90 L549.90,39.90 L550.40,39.90 L550.90,39.90 L551.40,39.90 L551.90,39.90 L552.40,39.90 L552.90,39.90 L553.40,39.90 M561.90,39.90 L562.40,39.90 L562.90,39.90 L563.40,39.90 L563.90,39.90 L564.40,39.90 L564.90,39.90 L565.40,39.90 L565.90,39.90 L566.40,39.90 L566.90,39.90 L567.40,39.90 L567.90,39.90 L568.40,39.90 L568.90,39.90 L569.40,39.90 L570.14,39.87 L570.88,39.84 L571.60,39.79 L572.32,39.74 L573.02,39.68 L573.71,39.61 L574.40,39.53 L575.07,39.44 L575.73,39.35 L576.39,39.24 L577.03,39.13 L577.66,39.00 L578.29,38.86 L578.90,38.72 L579.50,38.56 L580.10,38.39 L580.68,38.21 L581.25,38.02 L581.82,37.81 L582.37,37.59 L582.92,37.37 L583.46,37.12 L583.98,36.87 L584.50,36.60 L585.06,36.32 L585.57,36.02 L586.06,35.69 L586.50,35.33 L586.90,34.95 L587.27,34.56 L587.60,34.14 L587.89,33.71 L588.14,33.27 L588.35,32.82 L588.52,32.36 L588.65,31.89 L588.74,31.41 L588.80,30.94 L588.81,30.46 L588.78,29.99 L588.71,29.51 L588.61,29.05 L588.46,28.59 L588.27,28.14 L588.04,27.71 L587.77,27.29 L587.45,26.89 L587.10,26.50 M552.70,39.9 C553.90,39.9 554.30,39 554.30,38 C554.30,36.1 555.82,34.6 557.70,34.6 C559.58,34.6 561.10,36.1 561.10,38 C561.10,39 561.50,39.9 562.70,39.9 " fill="none" stroke="#2e3a50" stroke-width="1.1" stroke-linejoin="round"/><path d="M520.00,62 C516.60,58.5 514.80,53 519.80,47.2 C520.20,46.7 520.70,46.7 521.20,47.2 C523.40,49.6 526.40,52.4 530.40,53.1 C541.40,54.6 570.40,54.6 581.40,53.1 C585.40,52.4 588.40,49.6 590.60,47.2 C591.10,46.7 591.60,46.7 592.00,47.2 C597.00,53 595.20,58.5 591.80,62 Z" fill="#e5e5e8"/><path d="M520.00,62 C516.60,58.5 514.80,53 519.80,47.2 C520.20,46.7 520.70,46.7 521.20,47.2 C523.40,49.6 526.40,52.4 530.40,53.1 C541.40,54.6 570.40,54.6 581.40,53.1 C585.40,52.4 588.40,49.6 590.60,47.2 C591.10,46.7 591.60,46.7 592.00,47.2 C597.00,53 595.20,58.5 591.80,62" fill="none" stroke="#2e3a50" stroke-width="1.1"/><path d="M538.20,47.75 C539.60,46.65 543.15,47.45 543.15,53.50 C543.15,59.55 539.60,60.35 538.20,59.25 C536.80,60.35 533.25,59.55 533.25,53.50 C533.25,47.45 536.80,46.65 538.20,47.75Z" fill="url(#gG)" stroke="#237a20" stroke-width="0.95"/><path d="M537.75,47.75 C535.30,50.50 535.30,56.50 537.75,59.25" stroke="#2a8226" stroke-width="0.85" fill="none"/><path d="M538.65,47.75 C541.10,50.50 541.10,56.50 538.65,59.25" stroke="#2a8226" stroke-width="0.85" fill="none"/><path d="M536.78,48.05 C533.65,50.50 533.65,56.50 536.78,58.95" stroke="#b6eaa0" stroke-width="0.7" fill="none"/><path d="M539.62,48.05 C542.75,50.50 542.75,56.50 539.62,58.95" stroke="#b6eaa0" stroke-width="0.7" fill="none"/><path d="M551.40,48.60 C552.80,47.50 556.25,48.30 556.25,54.30 C556.25,60.30 552.80,61.10 551.40,60.00 C550.00,61.10 546.55,60.30 546.55,54.30 C546.55,48.30 550.00,47.50 551.40,48.60Z" fill="url(#gR)" stroke="#8e2e2c" stroke-width="0.95"/><path d="M550.96,48.60 C548.56,51.30 548.56,57.30 550.96,60.00" stroke="#922e2e" stroke-width="0.85" fill="none"/><path d="M551.84,48.60 C554.24,51.30 554.24,57.30 551.84,60.00" stroke="#922e2e" stroke-width="0.85" fill="none"/><path d="M550.01,48.90 C546.95,51.30 546.95,57.30 550.01,59.70" stroke="#eab4b0" stroke-width="0.7" fill="none"/><path d="M552.79,48.90 C555.85,51.30 555.85,57.30 552.79,59.70" stroke="#eab4b0" stroke-width="0.7" fill="none"/><path d="M565.50,47.75 C566.90,46.65 570.45,47.45 570.45,53.50 C570.45,59.55 566.90,60.35 565.50,59.25 C564.10,60.35 560.55,59.55 560.55,53.50 C560.55,47.45 564.10,46.65 565.50,47.75Z" fill="url(#gG)" stroke="#237a20" stroke-width="0.95"/><path d="M565.05,47.75 C562.60,50.50 562.60,56.50 565.05,59.25" stroke="#2a8226" stroke-width="0.85" fill="none"/><path d="M565.95,47.75 C568.40,50.50 568.40,56.50 565.95,59.25" stroke="#2a8226" stroke-width="0.85" fill="none"/><path d="M564.08,48.05 C560.95,50.50 560.95,56.50 564.08,58.95" stroke="#b6eaa0" stroke-width="0.7" fill="none"/><path d="M566.92,48.05 C570.05,50.50 570.05,56.50 566.92,58.95" stroke="#b6eaa0" stroke-width="0.7" fill="none"/><path d="M579.20,48.60 C580.60,47.50 584.05,48.30 584.05,54.30 C584.05,60.30 580.60,61.10 579.20,60.00 C577.80,61.10 574.35,60.30 574.35,54.30 C574.35,48.30 577.80,47.50 579.20,48.60Z" fill="url(#gR)" stroke="#8e2e2c" stroke-width="0.95"/><path d="M578.76,48.60 C576.36,51.30 576.36,57.30 578.76,60.00" stroke="#922e2e" stroke-width="0.85" fill="none"/><path d="M579.64,48.60 C582.04,51.30 582.04,57.30 579.64,60.00" stroke="#922e2e" stroke-width="0.85" fill="none"/><path d="M577.81,48.90 C574.75,51.30 574.75,57.30 577.81,59.70" stroke="#eab4b0" stroke-width="0.7" fill="none"/><path d="M580.59,48.90 C583.65,51.30 583.65,57.30 580.59,59.70" stroke="#eab4b0" stroke-width="0.7" fill="none"/><path d="M612.10,26.5 C609.10,29.5 610.10,34.5 614.70,36.6 C618.80,38.8 623.80,39.7 629.80,39.9 L655.80,39.9 C661.80,39.7 666.80,38.6 670.90,36.6 C675.50,34.5 676.50,29.5 673.50,26.5 Z" fill="#e5e5e8"/><path d="M638.80,39.8 L647.60,39.8 C648.70,40.6 649.50,42.6 649.50,44.2 C649.50,45.9 646.20,46.4 643.20,46.4 C640.20,46.4 636.90,45.9 636.90,44.2 C636.90,42.6 637.70,40.6 638.80,39.8 Z" fill="url(#gBase)" filter="url(#blur)"/><path d="M639.80,41.2 L639.80,38 C639.80,36.1 641.32,34.6 643.20,34.6 C645.08,34.6 646.60,36.1 646.60,38 L646.60,41.2 Z" fill="url(#gB)"/><path d="M612.10,26.50 L611.75,26.89 L611.43,27.29 L611.16,27.71 L610.93,28.14 L610.74,28.59 L610.59,29.05 L610.49,29.51 L610.42,29.99 L610.39,30.46 L610.40,30.94 L610.46,31.41 L610.55,31.89 L610.68,32.36 L610.85,32.82 L611.06,33.27 L611.31,33.71 L611.60,34.14 L611.93,34.56 L612.30,34.95 L612.70,35.33 L613.14,35.69 L613.63,36.02 L614.14,36.32 L614.70,36.60 L615.22,36.87 L615.74,37.12 L616.28,37.37 L616.83,37.59 L617.38,37.81 L617.95,38.02 L618.52,38.21 L619.10,38.39 L619.70,38.56 L620.30,38.72 L620.91,38.86 L621.54,39.00 L622.17,39.13 L622.81,39.24 L623.47,39.35 L624.13,39.44 L624.80,39.53 L625.49,39.61 L626.18,39.68 L626.88,39.74 L627.60,39.79 L628.32,39.84 L629.06,39.87 L629.80,39.90 L630.30,39.90 L630.80,39.90 L631.30,39.90 L631.80,39.90 L632.30,39.90 L632.80,39.90 L633.30,39.90 L633.80,39.90 L634.30,39.90 L634.80,39.90 L635.30,39.90 L635.80,39.90 L636.30,39.90 L636.80,39.90 L637.30,39.90 L637.80,39.90 L638.30,39.90 L638.80,39.90 M647.80,39.90 L648.30,39.90 L648.80,39.90 L649.30,39.90 L649.80,39.90 L650.30,39.90 L650.80,39.90 L651.30,39.90 L651.80,39.90 L652.30,39.90 L652.80,39.90 L653.30,39.90 L653.80,39.90 L654.30,39.90 L654.80,39.90 L655.30,39.90 L655.80,39.90 L656.54,39.87 L657.28,39.84 L658.00,39.79 L658.72,39.74 L659.42,39.68 L660.11,39.61 L660.80,39.53 L661.47,39.44 L662.13,39.35 L662.79,39.24 L663.43,39.13 L664.06,39.00 L664.69,38.86 L665.30,38.72 L665.90,38.56 L666.50,38.39 L667.08,38.21 L667.65,38.02 L668.22,37.81 L668.77,37.59 L669.32,37.37 L669.86,37.12 L670.38,36.87 L670.90,36.60 L671.46,36.32 L671.97,36.02 L672.46,35.69 L672.90,35.33 L673.30,34.95 L673.67,34.56 L674.00,34.14 L674.29,33.71 L674.54,33.27 L674.75,32.82 L674.92,32.36 L675.05,31.89 L675.14,31.41 L675.20,30.94 L675.21,30.46 L675.18,29.99 L675.11,29.51 L675.01,29.05 L674.86,28.59 L674.67,28.14 L674.44,27.71 L674.17,27.29 L673.85,26.89 L673.50,26.50 M638.20,39.9 C639.40,39.9 639.80,39 639.80,38 C639.80,36.1 641.32,34.6 643.20,34.6 C645.08,34.6 646.60,36.1 646.60,38 C646.60,39 647.00,39.9 648.20,39.9 " fill="none" stroke="#2e3a50" stroke-width="1.1" stroke-linejoin="round"/><path d="M606.40,62 C603.00,58.5 601.20,53 606.20,47.2 C606.60,46.7 607.10,46.7 607.60,47.2 C609.80,49.6 612.80,52.4 616.80,53.1 C627.80,54.6 656.80,54.6 667.80,53.1 C671.80,52.4 674.80,49.6 677.00,47.2 C677.50,46.7 678.00,46.7 678.40,47.2 C683.40,53 681.60,58.5 678.20,62 Z" fill="#e5e5e8"/><path d="M606.40,62 C603.00,58.5 601.20,53 606.20,47.2 C606.60,46.7 607.10,46.7 607.60,47.2 C609.80,49.6 612.80,52.4 616.80,53.1 C627.80,54.6 656.80,54.6 667.80,53.1 C671.80,52.4 674.80,49.6 677.00,47.2 C677.50,46.7 678.00,46.7 678.40,47.2 C683.40,53 681.60,58.5 678.20,62" fill="none" stroke="#2e3a50" stroke-width="1.1"/><path d="M622.00,48.30 C623.40,47.20 626.60,48.00 626.60,53.50 C626.60,59.00 623.40,59.80 622.00,58.70 C620.60,59.80 617.40,59.00 617.40,53.50 C617.40,48.00 620.60,47.20 622.00,48.30Z" fill="url(#gGx)" stroke="#64a858" stroke-width="0.95"/><path d="M619.30,49.90 L624.70,57.10 M624.70,49.90 L619.30,57.10" stroke="#ec4a26" stroke-width="1.35"/><path d="M636.00,48.60 C637.40,47.50 640.85,48.30 640.85,54.30 C640.85,60.30 637.40,61.10 636.00,60.00 C634.60,61.10 631.15,60.30 631.15,54.30 C631.15,48.30 634.60,47.50 636.00,48.60Z" fill="url(#gR)" stroke="#8e2e2c" stroke-width="0.95"/><path d="M635.56,48.60 C633.16,51.30 633.16,57.30 635.56,60.00" stroke="#922e2e" stroke-width="0.85" fill="none"/><path d="M636.44,48.60 C638.84,51.30 638.84,57.30 636.44,60.00" stroke="#922e2e" stroke-width="0.85" fill="none"/><path d="M634.61,48.90 C631.55,51.30 631.55,57.30 634.61,59.70" stroke="#eab4b0" stroke-width="0.7" fill="none"/><path d="M637.39,48.90 C640.45,51.30 640.45,57.30 637.39,59.70" stroke="#eab4b0" stroke-width="0.7" fill="none"/><path d="M650.80,48.30 C652.20,47.20 655.40,48.00 655.40,53.50 C655.40,59.00 652.20,59.80 650.80,58.70 C649.40,59.80 646.20,59.00 646.20,53.50 C646.20,48.00 649.40,47.20 650.80,48.30Z" fill="url(#gGx)" stroke="#64a858" stroke-width="0.95"/><path d="M648.10,49.90 L653.50,57.10 M653.50,49.90 L648.10,57.10" stroke="#ec4a26" stroke-width="1.35"/><path d="M664.50,48.60 C665.90,47.50 669.35,48.30 669.35,54.30 C669.35,60.30 665.90,61.10 664.50,60.00 C663.10,61.10 659.65,60.30 659.65,54.30 C659.65,48.30 663.10,47.50 664.50,48.60Z" fill="url(#gR)" stroke="#8e2e2c" stroke-width="0.95"/><path d="M664.06,48.60 C661.66,51.30 661.66,57.30 664.06,60.00" stroke="#922e2e" stroke-width="0.85" fill="none"/><path d="M664.94,48.60 C667.34,51.30 667.34,57.30 664.94,60.00" stroke="#922e2e" stroke-width="0.85" fill="none"/><path d="M663.11,48.90 C660.05,51.30 660.05,57.30 663.11,59.70" stroke="#eab4b0" stroke-width="0.7" fill="none"/><path d="M665.89,48.90 C668.95,51.30 668.95,57.30 665.89,59.70" stroke="#eab4b0" stroke-width="0.7" fill="none"/><rect x="11.4" y="134.4" width="2.2" height="5.4" fill="#111"/><path d="M7.90,139.20 L11.60,139.20 L11.80,134.50 L13.30,134.60 L13.50,126.00 L15.20,76.00 L15.70,70.10 L16.00,68.70 L16.50,68.08 L17.00,70.03 L17.50,72.48 L18.00,74.90 L18.50,77.18 L19.00,79.30 L19.50,81.28 L20.00,83.15 L20.50,84.90 L21.00,86.57 L21.50,88.16 L22.00,89.67 L22.50,91.12 L23.00,92.51 L23.50,93.85 L24.00,95.14 L24.50,96.39 L25.00,97.59 L25.50,98.75 L26.00,99.88 L26.50,100.97 L27.00,102.03 L27.50,103.06 L28.00,104.06 L28.50,105.03 L29.00,105.97 L29.50,106.88 L30.00,107.77 L30.50,108.63 L31.00,109.47 L31.50,110.29 L32.00,111.08 L32.50,111.85 L33.00,112.60 L33.50,113.33 L34.00,114.04 L34.50,114.73 L35.00,115.40 L35.50,116.05 L36.00,116.68 L36.50,117.30 L37.00,117.90 L37.50,118.48 L38.00,119.05 L38.50,119.60 L39.00,120.14 L39.50,120.66 L40.00,121.16 L40.50,121.66 L41.00,122.14 L41.50,122.60 L42.00,123.06 L42.50,123.50 L43.00,123.93 L43.50,124.35 L44.00,124.75 L44.50,125.15 L45.00,125.53 L45.50,125.91 L46.00,126.27 L46.50,126.63 L47.00,126.97 L47.50,127.30 L48.00,127.63 L48.50,127.95 L49.00,128.25 L49.50,128.55 L50.00,128.84 L50.50,129.13 L51.00,129.40 L51.50,129.67 L52.00,129.93 L52.50,130.19 L53.00,130.43 L53.50,130.67 L54.00,130.91 L54.50,131.13 L55.00,131.35 L55.50,131.57 L56.00,131.78 L56.50,131.98 L57.00,132.18 L57.50,132.37 L58.00,132.56 L58.50,132.74 L59.00,132.92 L59.50,133.09 L60.00,133.25 L60.50,133.42 L61.00,133.58 L61.50,133.73 L62.00,133.88 L62.50,134.02 L63.00,134.17 L63.50,134.30 L64.00,134.44 L64.50,134.57 L65.00,134.70 L65.50,134.82 L66.00,134.94 L66.50,135.05 L67.00,135.17 L67.50,135.28 L68.00,135.39 L68.50,135.49 L69.00,135.59 L69.50,135.69 L70.00,135.79 L70.50,135.88 L71.00,135.97 L71.50,136.06 L72.00,136.15 L72.50,136.23 L73.00,136.31 L73.50,136.39 L74.00,136.47 L74.50,136.54 L75.00,136.61 L75.50,136.68 L76.00,136.75 L76.50,136.82 L77.00,136.89 L77.50,136.95 L78.00,137.01 L78.50,137.07 L79.00,137.13" fill="none" stroke="#111" stroke-width="1.9" stroke-linejoin="round"/><path d="M92.00,139.40 L95.10,139.40 L95.80,137.50 L96.90,136.50 L97.20,120.00 L99.60,75.30 L100.20,72.30 L100.70,73.18 L101.20,74.37 L101.70,75.78 L102.20,77.32 L102.70,78.96 L103.20,80.65 L103.70,82.36 L104.20,84.08 L104.70,85.78 L105.20,87.45 L105.70,89.10 L106.20,90.70 L106.70,92.26 L107.20,93.78 L107.70,95.26 L108.20,96.68 L108.70,98.06 L109.20,99.40 L109.70,100.69 L110.20,101.93 L110.70,103.14 L111.20,104.30 L111.70,105.42 L112.20,106.50 L112.70,107.55 L113.20,108.55 L113.70,109.53 L114.20,110.46 L114.70,111.37 L115.20,112.24 L115.70,113.08 L116.20,113.90 L116.70,114.68 L117.20,115.44 L117.70,116.17 L118.20,116.87 L118.70,117.55 L119.20,118.21 L119.70,118.84 L120.20,119.45 L120.70,120.04 L121.20,120.61 L121.70,121.16 L122.20,121.69 L122.70,122.20 L123.20,122.70 L123.70,123.17 L124.20,123.63 L124.70,124.08 L125.20,124.51 L125.70,124.92 L126.20,125.33 L126.70,125.71 L127.20,126.09 L127.70,126.45 L128.20,126.80 L128.70,127.14 L129.20,127.46 L129.70,127.78 L130.20,128.08 L130.70,128.38 L131.20,128.66 L131.70,128.94 L132.20,129.20 L132.70,129.46 L133.20,129.71 L133.70,129.95 L134.20,130.18 L134.70,130.41 L135.20,130.62 L135.70,130.84 L136.20,131.04 L136.70,131.24 L137.20,131.43 L137.70,131.61 L138.20,131.79 L138.70,131.97 L139.20,132.13 L139.70,132.30 L140.20,132.46 L140.70,132.61 L141.20,132.76 L141.70,132.90 L142.20,133.04 L142.70,133.17 L143.20,133.30 L143.70,133.43 L144.20,133.55 L144.70,133.67 L145.20,133.79 L145.70,133.90 L146.20,134.01 L146.70,134.12 L147.20,134.22 L147.70,134.32 L148.20,134.41 L148.70,134.51 L149.20,134.60 L149.70,134.69 L150.20,134.77 L150.70,134.86 L151.20,134.94 L151.70,135.02 L152.20,135.10 L152.70,135.17 L153.20,135.24 L153.70,135.31 L154.20,135.38 L154.70,135.45 L155.20,135.52 L155.70,135.58 L156.20,135.64 L156.70,135.70 L157.20,135.76 L157.70,135.82 L158.20,135.87 L158.70,135.93 L159.20,135.98 L159.70,136.03 L160.20,136.08 L160.70,136.13 L161.20,136.18 L161.70,136.23 L162.20,136.27 L162.70,136.32 L163.20,136.36 L163.70,136.41" fill="none" stroke="#111" stroke-width="1.9" stroke-linejoin="round"/><path d="M176.10,139.00 L178.60,139.00 L178.90,134.30 L179.50,139.00 L180.20,134.30 L180.60,139.00 L181.40,136.00 L182.90,101.30 L183.40,99.50 L183.90,100.12 L184.40,101.23 L184.90,102.62 L185.40,104.14 L185.90,105.70 L186.40,107.24 L186.90,108.73 L187.40,110.15 L187.90,111.49 L188.40,112.74 L188.90,113.92 L189.40,115.01 L189.90,116.03 L190.40,116.98 L190.90,117.87 L191.40,118.69 L191.90,119.46 L192.40,120.18 L192.90,120.86 L193.40,121.49 L193.90,122.08 L194.40,122.64 L194.90,123.17 L195.40,123.66 L195.90,124.13 L196.40,124.57 L196.90,124.99 L197.40,125.39 L197.90,125.77 L198.40,126.14 L198.90,126.48 L199.40,126.81 L199.90,127.13 L200.40,127.43 L200.90,127.72 L201.40,128.00 L201.90,128.27 L202.40,128.53 L202.90,128.78 L203.40,129.02 L203.90,129.25 L204.40,129.48 L204.90,129.70 L205.40,129.91 L205.90,130.12 L206.40,130.31 L206.90,130.51 L207.40,130.70 L207.90,130.88 L208.40,131.06 L208.90,131.23 L209.40,131.40 L209.90,131.56 L210.40,131.72 L210.90,131.88 L211.40,132.03 L211.90,132.18 L212.40,132.32 L212.90,132.46 L213.40,132.60 L213.90,132.74 L214.40,132.87 L214.90,133.00 L215.40,133.12 L215.90,133.25 L216.40,133.37 L216.90,133.48 L217.40,133.60 L217.90,133.71 L218.40,133.82 L218.90,133.93 L219.40,134.03 L219.90,134.14 L220.40,134.24 L220.90,134.33 L221.40,134.43 L221.90,134.53 L222.40,134.62 L222.90,134.71 L223.40,134.80 L223.90,134.88 L224.40,134.97 L224.90,135.05 L225.40,135.13 L225.90,135.21 L226.40,135.29 L226.90,135.37 L227.40,135.44 L227.90,135.51 L228.40,135.59 L228.90,135.66 L229.40,135.72 L229.90,135.79 L230.40,135.86 L230.90,135.92 L231.40,135.99 L231.90,136.05 L232.40,136.11 L232.90,136.17 L233.40,136.23 L233.90,136.28 L234.40,136.34 L234.90,136.39 L235.40,136.45 L235.90,136.50 L236.40,136.55 L236.90,136.60 L237.40,136.65 L237.90,136.70 L238.40,136.75 L238.90,136.79 L239.40,136.84 L239.90,136.88 L240.40,136.92 L240.90,136.97 L241.40,137.01 L241.90,137.05 L242.40,137.09 L242.90,137.13 L243.40,137.17 L243.90,137.21 L244.40,137.24 L244.90,137.28 L245.40,137.31 L245.90,137.35 L246.40,137.38 L246.90,137.42 L247.40,137.45 L247.90,137.48 L248.40,137.51 L248.90,137.54 L249.40,137.57 L249.90,137.60 L250.40,137.63 L250.90,137.66" fill="none" stroke="#d41e22" stroke-width="1.9" stroke-linejoin="round"/><path d="M262.10,138.50 L266.00,138.50 L266.30,133.80 L267.90,133.80 L268.40,125.00 L269.20,118.00 L269.60,117.30 L270.10,117.44 L270.60,117.80 L271.10,118.33 L271.60,118.97 L272.10,119.67 L272.60,120.41 L273.10,121.17 L273.60,121.93 L274.10,122.69 L274.60,123.43 L275.10,124.15 L275.60,124.84 L276.10,125.51 L276.60,126.16 L277.10,126.77 L277.60,127.36 L278.10,127.92 L278.60,128.46 L279.10,128.97 L279.60,129.45 L280.10,129.91 L280.60,130.35 L281.10,130.76 L281.60,131.16 L282.10,131.53 L282.60,131.89 L283.10,132.22 L283.60,132.54 L284.10,132.85 L284.60,133.14 L285.10,133.41 L285.60,133.67 L286.10,133.92 L286.60,134.15 L287.10,134.37 L287.60,134.58 L288.10,134.78 L288.60,134.97 L289.10,135.15 L289.60,135.32 L290.10,135.48 L290.60,135.63 L291.10,135.78 L291.60,135.92 L292.10,136.05 L292.60,136.17 L293.10,136.29 L293.60,136.40 L294.10,136.51 L294.60,136.61 L295.10,136.70 L295.60,136.79 L296.10,136.88 L296.60,136.96 L297.10,137.04 L297.60,137.11 L298.10,137.18 L298.60,137.25 L299.10,137.31 L299.60,137.37 L300.10,137.43 L300.60,137.48 L301.10,137.53 L301.60,137.58 L302.10,137.62 L302.60,137.67 L303.10,137.71 L303.60,137.75 L304.10,137.79 L304.60,137.82 L305.10,137.85 L305.60,137.89 L306.10,137.92 L306.60,137.94 L307.10,137.97 L307.60,138.00 L308.10,138.02 L308.60,138.04 L309.10,138.07 L309.60,138.09 L310.10,138.11 L310.60,138.13 L311.10,138.14 L311.60,138.16 L312.10,138.18 L312.60,138.19 L313.10,138.21 L313.60,138.22 L314.10,138.23 L314.60,138.25 L315.10,138.26 L315.60,138.27 L316.10,138.28 L316.60,138.29 L317.10,138.30 L317.60,138.31 L318.10,138.32 L318.60,138.33 L319.10,138.33 L319.60,138.34 L320.10,138.35 L320.60,138.35 L321.10,138.36 L321.60,138.37 L322.10,138.37 L322.60,138.38 L323.10,138.38 L323.60,138.39 L324.10,138.39 L324.60,138.40 L325.10,138.40 L325.60,138.41 L326.10,138.41 L326.60,138.41 L327.10,138.42 L327.60,138.42 L328.10,138.42 L328.60,138.43 L329.10,138.43 L329.60,138.43 L330.10,138.43 L330.60,138.44 L331.10,138.44 L331.60,138.44 L332.10,138.44 L332.60,138.45 L333.10,138.45 L333.60,138.45 L334.10,138.45 L334.60,138.45 L335.10,138.45 L335.60,138.46 L336.10,138.46 L336.60,138.46 L337.10,138.46 L337.60,138.46 L338.10,138.46 L338.60,138.46" fill="none" stroke="#d41e22" stroke-width="1.9" stroke-linejoin="round"/><path d="M347.00,139.60 L351.50,139.60 L351.80,132.80 L352.80,136.00 L354.40,134.00 L356.10,103.30 L356.50,102.10 L357.00,102.63 L357.50,103.77 L358.00,105.06 L358.50,106.35 L359.00,107.60 L359.50,108.80 L360.00,109.94 L360.50,111.03 L361.00,112.06 L361.50,113.04 L362.00,113.97 L362.50,114.86 L363.00,115.70 L363.50,116.51 L364.00,117.27 L364.50,118.00 L365.00,118.70 L365.50,119.36 L366.00,119.99 L366.50,120.59 L367.00,121.17 L367.50,121.72 L368.00,122.24 L368.50,122.74 L369.00,123.21 L369.50,123.67 L370.00,124.10 L370.50,124.52 L371.00,124.92 L371.50,125.30 L372.00,125.66 L372.50,126.01 L373.00,126.35 L373.50,126.67 L374.00,126.97 L374.50,127.27 L375.00,127.55 L375.50,127.82 L376.00,128.08 L376.50,128.33 L377.00,128.57 L377.50,128.80 L378.00,129.03 L378.50,129.24 L379.00,129.45 L379.50,129.65 L380.00,129.84 L380.50,130.02 L381.00,130.20 L381.50,130.38 L382.00,130.54 L382.50,130.70 L383.00,130.86 L383.50,131.01 L384.00,131.16 L384.50,131.30 L385.00,131.43 L385.50,131.57 L386.00,131.70 L386.50,131.82 L387.00,131.94 L387.50,132.06 L388.00,132.18 L388.50,132.29 L389.00,132.40 L389.50,132.50 L390.00,132.60 L390.50,132.70 L391.00,132.80 L391.50,132.90 L392.00,132.99 L392.50,133.08 L393.00,133.17 L393.50,133.26 L394.00,133.34 L394.50,133.42 L395.00,133.50 L395.50,133.58 L396.00,133.66 L396.50,133.74 L397.00,133.81 L397.50,133.88 L398.00,133.96 L398.50,134.03 L399.00,134.09 L399.50,134.16 L400.00,134.23 L400.50,134.29 L401.00,134.36 L401.50,134.42 L402.00,134.48 L402.50,134.54 L403.00,134.60 L403.50,134.66 L404.00,134.72 L404.50,134.77 L405.00,134.83 L405.50,134.88 L406.00,134.94 L406.50,134.99 L407.00,135.04 L407.50,135.09 L408.00,135.15 L408.50,135.20 L409.00,135.25 L409.50,135.29 L410.00,135.34 L410.50,135.39 L411.00,135.44 L411.50,135.48 L412.00,135.53 L412.50,135.57 L413.00,135.62 L413.50,135.66 L414.00,135.70 L414.50,135.74 L415.00,135.79 L415.50,135.83 L416.00,135.87 L416.50,135.91 L417.00,135.95 L417.50,135.99 L418.00,136.03 L418.50,136.07 L419.00,136.10 L419.50,136.14 L420.00,136.18 L420.50,136.22 L421.00,136.25 L421.50,136.29 L422.00,136.32" fill="none" stroke="#9a9a9a" stroke-width="1.9" stroke-linejoin="round"/><path d="M432.10,138.70 L435.50,138.70 L435.80,130.60 L436.30,130.60 L436.60,138.40 L437.20,138.40 L437.50,130.60 L438.00,130.80 L438.50,134.00 L439.20,126.00 L441.40,116.80 L442.10,115.90 L442.60,115.75 L443.10,115.88 L443.60,116.23 L444.10,116.73 L444.60,117.35 L445.10,118.05 L445.60,118.80 L446.10,119.58 L446.60,120.37 L447.10,121.17 L447.60,121.95 L448.10,122.70 L448.60,123.44 L449.10,124.14 L449.60,124.81 L450.10,125.45 L450.60,126.05 L451.10,126.61 L451.60,127.14 L452.10,127.64 L452.60,128.10 L453.10,128.54 L453.60,128.94 L454.10,129.32 L454.60,129.67 L455.10,129.99 L455.60,130.29 L456.10,130.57 L456.60,130.83 L457.10,131.07 L457.60,131.30 L458.10,131.51 L458.60,131.70 L459.10,131.88 L459.60,132.05 L460.10,132.21 L460.60,132.36 L461.10,132.50 L461.60,132.63 L462.10,132.75 L462.60,132.86 L463.10,132.97 L463.60,133.07 L464.10,133.17 L464.60,133.26 L465.10,133.35 L465.60,133.43 L466.10,133.51 L466.60,133.58 L467.10,133.65 L467.60,133.72 L468.10,133.79 L468.60,133.85 L469.10,133.92 L469.60,133.98 L470.10,134.03 L470.60,134.09 L471.10,134.14 L471.60,134.20 L472.10,134.25 L472.60,134.30 L473.10,134.35 L473.60,134.39 L474.10,134.44 L474.60,134.49 L475.10,134.53 L475.60,134.58 L476.10,134.62 L476.60,134.66 L477.10,134.70 L477.60,134.75 L478.10,134.79 L478.60,134.83 L479.10,134.87 L479.60,134.90 L480.10,134.94 L480.60,134.98 L481.10,135.02 L481.60,135.05 L482.10,135.09 L482.60,135.13 L483.10,135.16 L483.60,135.20 L484.10,135.23 L484.60,135.27 L485.10,135.30 L485.60,135.33 L486.10,135.37 L486.60,135.40 L487.10,135.43 L487.60,135.46 L488.10,135.49 L488.60,135.53 L489.10,135.56 L489.60,135.59 L490.10,135.62 L490.60,135.65 L491.10,135.68 L491.60,135.71 L492.10,135.74 L492.60,135.77 L493.10,135.79 L493.60,135.82 L494.10,135.85 L494.60,135.88 L495.10,135.91 L495.60,135.93 L496.10,135.96 L496.60,135.99 L497.10,136.01 L497.60,136.04 L498.10,136.07 L498.60,136.09 L499.10,136.12 L499.60,136.14 L500.10,136.17 L500.60,136.19 L501.10,136.22 L501.60,136.24 L502.10,136.26 L502.60,136.29 L503.10,136.31 L503.60,136.33 L504.10,136.36 L504.60,136.38 L505.10,136.40 L505.60,136.43 L506.10,136.45 L506.60,136.47 L507.10,136.49 L507.60,136.51" fill="none" stroke="#9a9a9a" stroke-width="1.9" stroke-linejoin="round"/><path d="M520.30,138.80 L523.50,138.80 L523.80,130.70 L525.20,130.70 L526.00,131.00 L527.90,88.30 L528.40,86.80 L528.90,86.82 L529.40,87.19 L529.90,87.85 L530.40,88.71 L530.90,89.73 L531.40,90.85 L531.90,92.05 L532.40,93.30 L532.90,94.57 L533.40,95.85 L533.90,97.13 L534.40,98.39 L534.90,99.63 L535.40,100.85 L535.90,102.03 L536.40,103.18 L536.90,104.29 L537.40,105.37 L537.90,106.41 L538.40,107.41 L538.90,108.38 L539.40,109.31 L539.90,110.20 L540.40,111.06 L540.90,111.89 L541.40,112.69 L541.90,113.45 L542.40,114.18 L542.90,114.89 L543.40,115.56 L543.90,116.22 L544.40,116.84 L544.90,117.44 L545.40,118.02 L545.90,118.58 L546.40,119.11 L546.90,119.63 L547.40,120.13 L547.90,120.61 L548.40,121.07 L548.90,121.51 L549.40,121.94 L549.90,122.35 L550.40,122.75 L550.90,123.14 L551.40,123.51 L551.90,123.87 L552.40,124.22 L552.90,124.55 L553.40,124.88 L553.90,125.19 L554.40,125.49 L554.90,125.79 L555.40,126.08 L555.90,126.35 L556.40,126.62 L556.90,126.88 L557.40,127.13 L557.90,127.38 L558.40,127.62 L558.90,127.85 L559.40,128.07 L559.90,128.29 L560.40,128.50 L560.90,128.71 L561.40,128.91 L561.90,129.10 L562.40,129.29 L562.90,129.48 L563.40,129.66 L563.90,129.84 L564.40,130.01 L564.90,130.17 L565.40,130.34 L565.90,130.50 L566.40,130.65 L566.90,130.80 L567.40,130.95 L567.90,131.10 L568.40,131.24 L568.90,131.38 L569.40,131.51 L569.90,131.64 L570.40,131.77 L570.90,131.90 L571.40,132.02 L571.90,132.14 L572.40,132.26 L572.90,132.37 L573.40,132.49 L573.90,132.60 L574.40,132.71 L574.90,132.81 L575.40,132.92 L575.90,133.02 L576.40,133.12 L576.90,133.22 L577.40,133.31 L577.90,133.41 L578.40,133.50 L578.90,133.59 L579.40,133.68 L579.90,133.76 L580.40,133.85 L580.90,133.93 L581.40,134.01 L581.90,134.10 L582.40,134.17 L582.90,134.25 L583.40,134.33 L583.90,134.40 L584.40,134.48 L584.90,134.55 L585.40,134.62 L585.90,134.69 L586.40,134.76 L586.90,134.82 L587.40,134.89 L587.90,134.95 L588.40,135.02 L588.90,135.08 L589.40,135.14 L589.90,135.20 L590.40,135.26 L590.90,135.32 L591.40,135.38 L591.90,135.43 L592.40,135.49 L592.90,135.54 L593.40,135.59 L593.90,135.65 L594.40,135.70 L594.90,135.75 L595.40,135.80 L595.90,135.85 L596.40,135.90 L596.90,135.94" fill="none" stroke="#2216c2" stroke-width="1.9" stroke-linejoin="round"/><path d="M606.50,137.30 L610.00,137.30 L610.25,132.90 L611.60,132.90 L613.50,93.80 L614.00,92.20 L614.50,92.48 L615.00,93.01 L615.50,93.72 L616.00,94.56 L616.50,95.49 L617.00,96.48 L617.50,97.50 L618.00,98.54 L618.50,99.58 L619.00,100.62 L619.50,101.64 L620.00,102.64 L620.50,103.62 L621.00,104.58 L621.50,105.51 L622.00,106.41 L622.50,107.29 L623.00,108.14 L623.50,108.96 L624.00,109.76 L624.50,110.53 L625.00,111.28 L625.50,112.00 L626.00,112.70 L626.50,113.39 L627.00,114.05 L627.50,114.69 L628.00,115.31 L628.50,115.91 L629.00,116.50 L629.50,117.06 L630.00,117.62 L630.50,118.15 L631.00,118.67 L631.50,119.18 L632.00,119.67 L632.50,120.15 L633.00,120.61 L633.50,121.06 L634.00,121.50 L634.50,121.93 L635.00,122.34 L635.50,122.74 L636.00,123.14 L636.50,123.52 L637.00,123.89 L637.50,124.25 L638.00,124.60 L638.50,124.94 L639.00,125.28 L639.50,125.60 L640.00,125.91 L640.50,126.22 L641.00,126.52 L641.50,126.81 L642.00,127.09 L642.50,127.36 L643.00,127.63 L643.50,127.89 L644.00,128.14 L644.50,128.39 L645.00,128.63 L645.50,128.86 L646.00,129.09 L646.50,129.31 L647.00,129.52 L647.50,129.73 L648.00,129.94 L648.50,130.13 L649.00,130.33 L649.50,130.51 L650.00,130.70 L650.50,130.87 L651.00,131.05 L651.50,131.21 L652.00,131.38 L652.50,131.54 L653.00,131.69 L653.50,131.84 L654.00,131.99 L654.50,132.13 L655.00,132.27 L655.50,132.41 L656.00,132.54 L656.50,132.67 L657.00,132.79 L657.50,132.91 L658.00,133.03 L658.50,133.14 L659.00,133.26 L659.50,133.36 L660.00,133.47 L660.50,133.57 L661.00,133.67 L661.50,133.77 L662.00,133.87 L662.50,133.96 L663.00,134.05 L663.50,134.13 L664.00,134.22 L664.50,134.30 L665.00,134.38 L665.50,134.46 L666.00,134.54 L666.50,134.61 L667.00,134.68 L667.50,134.75 L668.00,134.82 L668.50,134.89 L669.00,134.95 L669.50,135.02 L670.00,135.08 L670.50,135.14 L671.00,135.20 L671.50,135.25 L672.00,135.31 L672.50,135.36 L673.00,135.41 L673.50,135.46 L674.00,135.51 L674.50,135.56 L675.00,135.61 L675.50,135.65 L676.00,135.70 L676.50,135.74 L677.00,135.78 L677.50,135.82 L678.00,135.86 L678.50,135.90 L679.00,135.94 L679.50,135.98 L680.00,136.01 L680.50,136.05 L681.00,136.08 L681.50,136.11 L682.00,136.14" fill="none" stroke="#2216c2" stroke-width="1.9" stroke-linejoin="round"/><path d="M25.60,80.62 L26.00,80.65 L26.40,80.62 L26.80,80.52 L27.20,79.22 L27.60,73.46 L28.00,72.90 L28.40,74.06 L28.80,74.99 L29.20,75.79 L29.60,76.46 L30.00,77.08 L30.40,77.51 L30.80,77.98 L31.20,78.33 L31.60,78.72 L32.00,78.96 L32.40,79.17 L32.80,79.34 L33.20,79.55 L33.60,79.71 L34.00,79.82 L34.40,80.02 L34.80,80.10 L35.20,79.96 L35.60,80.07 L36.00,80.24 L36.40,80.27 L36.80,80.35 L37.20,80.39 L37.60,80.54 L38.00,80.37 L38.40,80.44 L38.80,80.60 L39.20,80.54 L39.60,80.55 L40.00,80.49 L40.40,80.44 L40.80,80.55 L41.20,80.56 L41.60,77.82 L42.00,72.52 L42.40,73.71 L42.80,74.64 L43.20,75.53 L43.60,76.26 L44.00,76.88 L44.40,77.38 L44.80,77.90 L45.20,78.31 L45.60,78.61 L46.00,78.83 L46.40,79.16 L46.80,79.30 L47.20,79.57 L47.60,79.60 L48.00,79.86 L48.40,79.91 L48.80,79.94 L49.20,78.88 L49.60,76.57 L50.00,77.16 L50.40,77.58 L50.80,77.99 L51.20,77.30 L51.60,73.04 L52.00,72.95 L52.40,74.08 L52.80,74.87 L53.20,75.79 L53.60,76.53 L54.00,77.03 L54.40,77.51 L54.80,78.04 L55.20,78.38 L55.60,78.74 L56.00,78.93 L56.40,79.10 L56.80,79.38 L57.20,79.54 L57.60,79.76 L58.00,79.85 L58.40,79.85 L58.80,77.30 L59.20,76.47 L59.60,77.05 L60.00,77.49 L60.40,77.96 L60.80,78.37 L61.20,78.69 L61.60,78.99 L62.00,79.19 L62.40,79.37 L62.80,79.54 L63.20,79.76 L63.60,79.69 L64.00,79.93 L64.40,80.04 L64.80,80.03 L65.20,80.20 L65.60,79.00 L66.00,74.35 L66.40,73.91 L66.80,74.91 L67.20,75.76 L67.60,76.41 L68.00,76.94 L68.40,77.41 L68.80,78.05 L69.20,78.32 L69.60,78.61 L70.00,78.94 L70.40,79.15 L70.80,79.42 L71.20,79.55 L71.60,79.70 L72.00,79.78 L72.40,79.96 L72.80,79.97" fill="none" stroke="#3a3a3a" stroke-width="1.0" stroke-linejoin="round"/><path d="M25.30,92.61 L25.70,92.57 L26.10,92.58 L26.50,91.15 L26.90,90.20 L27.30,90.49 L27.70,90.70 L28.10,91.01 L28.50,91.20 L28.90,91.34 L29.30,91.59 L29.70,91.66 L30.10,91.78 L30.50,91.86 L30.90,92.03 L31.30,92.07 L31.70,88.71 L32.10,87.33 L32.50,88.07 L32.90,88.61 L33.30,89.24 L33.70,89.66 L34.10,90.06 L34.50,90.40 L34.90,90.61 L35.30,90.98 L35.70,91.28 L36.10,91.25 L36.50,91.41 L36.90,91.57 L37.30,91.83 L37.70,91.90 L38.10,92.05 L38.50,92.11 L38.90,92.15 L39.30,92.22 L39.70,92.08 L40.10,91.52 L40.50,91.37 L40.90,91.57 L41.30,91.74 L41.70,91.95 L42.10,91.90 L42.50,91.97 L42.90,92.07 L43.30,92.23 L43.70,92.22 L44.10,92.36 L44.50,92.21 L44.90,92.43 L45.30,92.45 L45.70,92.33 L46.10,92.45 L46.50,92.54 L46.90,92.49 L47.30,92.56 L47.70,92.65 L48.10,92.54 L48.50,92.52 L48.90,92.50 L49.30,92.59 L49.70,92.54 L50.10,92.55 L50.50,92.56 L50.90,92.04 L51.30,89.68 L51.70,89.43 L52.10,89.79 L52.50,90.36 L52.90,90.60 L53.30,90.95 L53.70,91.09 L54.10,91.25 L54.50,91.50 L54.90,91.61 L55.30,91.67 L55.70,91.81 L56.10,92.07 L56.50,92.07 L56.90,92.14 L57.30,92.17 L57.70,92.20 L58.10,92.34 L58.50,92.32 L58.90,92.32 L59.30,92.39 L59.70,92.37 L60.10,92.46 L60.50,92.54 L60.90,92.43 L61.30,92.59 L61.70,92.47 L62.10,92.53 L62.50,92.48 L62.90,92.53 L63.30,92.55 L63.70,92.53 L64.10,92.52 L64.50,92.53 L64.90,92.52 L65.30,87.95 L65.70,86.23 L66.10,87.12 L66.50,87.88 L66.90,88.50 L67.30,89.16 L67.70,89.51 L68.10,89.88 L68.50,90.38 L68.90,90.51 L69.30,90.90 L69.70,91.02 L70.10,91.30 L70.50,91.34 L70.90,91.66 L71.30,91.73 L71.70,91.80 L72.10,92.05 L72.50,92.09" fill="none" stroke="#3a3a3a" stroke-width="1.0" stroke-linejoin="round"/><path d="M111.10,79.12 L111.50,78.85 L111.90,79.03 L112.30,78.97 L112.70,78.97 L113.10,78.99 L113.50,78.88 L113.90,78.99 L114.30,78.95 L114.70,79.20 L115.10,79.01 L115.50,76.68 L115.90,74.59 L116.30,75.30 L116.70,75.88 L117.10,76.43 L117.50,76.90 L117.90,77.21 L118.30,77.58 L118.70,77.76 L119.10,75.48 L119.50,73.46 L119.90,74.34 L120.30,75.06 L120.70,75.73 L121.10,76.31 L121.50,76.85 L121.90,77.10 L122.30,77.42 L122.70,77.76 L123.10,77.86 L123.50,78.09 L123.90,78.31 L124.30,78.43 L124.70,78.51 L125.10,78.64 L125.50,78.52 L125.90,78.42 L126.30,76.77 L126.70,76.70 L127.10,77.22 L127.50,77.58 L127.90,77.81 L128.30,78.02 L128.70,78.30 L129.10,78.49 L129.50,78.74 L129.90,78.85 L130.30,78.94 L130.70,79.11 L131.10,79.13 L131.50,79.18 L131.90,79.35 L132.30,79.43 L132.70,79.44 L133.10,79.46 L133.50,79.57 L133.90,79.44 L134.30,79.66 L134.70,79.67 L135.10,79.55 L135.50,79.66 L135.90,79.59 L136.30,79.68 L136.70,79.50 L137.10,79.54 L137.50,79.61 L137.90,79.61 L138.30,79.37 L138.70,79.43 L139.10,79.44 L139.50,79.34 L139.90,79.43 L140.30,79.21 L140.70,79.25 L141.10,79.12 L141.50,79.21 L141.90,79.07 L142.30,78.98 L142.70,78.83 L143.10,78.96 L143.50,78.82 L143.90,78.73 L144.30,78.66 L144.70,78.51 L145.10,78.34 L145.50,78.22 L145.90,78.11 L146.30,78.13 L146.70,77.85 L147.10,77.80 L147.50,77.74 L147.90,77.70 L148.30,77.67 L148.70,77.53 L149.10,77.50 L149.50,77.62 L149.90,77.73 L150.30,77.76 L150.70,77.80 L151.10,77.86 L151.50,77.99 L151.90,78.06 L152.30,78.23 L152.70,78.24 L153.10,78.40 L153.50,78.15 L153.90,76.94 L154.30,76.92 L154.70,77.42 L155.10,77.65 L155.50,77.90 L155.90,77.90 L156.30,78.18 L156.70,78.30 L157.10,78.49 L157.50,78.42 L157.90,78.70 L158.30,78.76 L158.70,78.67" fill="none" stroke="#3a3a3a" stroke-width="1.0" stroke-linejoin="round"/><path d="M111.10,93.06 L111.50,93.08 L111.90,93.17 L112.30,93.10 L112.70,92.95 L113.10,93.03 L113.50,92.98 L113.90,93.01 L114.30,92.89 L114.70,92.99 L115.10,92.54 L115.50,90.87 L115.90,90.58 L116.30,90.86 L116.70,90.97 L117.10,91.40 L117.50,91.33 L117.90,91.66 L118.30,91.71 L118.70,91.79 L119.10,91.91 L119.50,92.00 L119.90,92.14 L120.30,92.17 L120.70,92.32 L121.10,92.17 L121.50,92.32 L121.90,92.31 L122.30,91.67 L122.70,89.98 L123.10,90.38 L123.50,90.67 L123.90,90.79 L124.30,91.13 L124.70,91.25 L125.10,91.45 L125.50,91.58 L125.90,91.57 L126.30,91.68 L126.70,91.80 L127.10,91.93 L127.50,92.00 L127.90,91.96 L128.30,92.01 L128.70,92.04 L129.10,92.09 L129.50,92.13 L129.90,92.16 L130.30,92.31 L130.70,92.17 L131.10,92.20 L131.50,92.25 L131.90,92.17 L132.30,92.21 L132.70,92.23 L133.10,92.28 L133.50,92.15 L133.90,92.31 L134.30,92.20 L134.70,92.22 L135.10,92.26 L135.50,92.24 L135.90,92.25 L136.30,91.86 L136.70,90.50 L137.10,90.36 L137.50,90.48 L137.90,90.79 L138.30,90.83 L138.70,90.94 L139.10,91.25 L139.50,91.22 L139.90,91.25 L140.30,91.51 L140.70,91.44 L141.10,91.58 L141.50,91.52 L141.90,91.59 L142.30,91.54 L142.70,91.56 L143.10,91.64 L143.50,91.71 L143.90,91.78 L144.30,91.89 L144.70,91.69 L145.10,91.82 L145.50,91.73 L145.90,91.75 L146.30,91.67 L146.70,91.67 L147.10,91.71 L147.50,91.68 L147.90,91.75 L148.30,91.70 L148.70,91.81 L149.10,91.74 L149.50,91.73 L149.90,91.78 L150.30,91.73 L150.70,91.69 L151.10,91.67 L151.50,91.66 L151.90,91.72 L152.30,91.69 L152.70,91.65 L153.10,91.67 L153.50,91.57 L153.90,91.62 L154.30,91.49 L154.70,91.65 L155.10,91.56 L155.50,91.55 L155.90,91.56 L156.30,91.51 L156.70,91.48 L157.10,91.56 L157.50,91.48" fill="none" stroke="#3a3a3a" stroke-width="1.0" stroke-linejoin="round"/><path d="M196.20,78.35 L196.60,78.33 L197.00,78.40 L197.40,78.44 L197.80,78.49 L198.20,78.44 L198.60,78.40 L199.00,78.39 L199.40,78.49 L199.80,78.55 L200.20,78.48 L200.60,78.39 L201.00,78.41 L201.40,78.57 L201.80,78.50 L202.20,78.39 L202.60,78.49 L203.00,78.43 L203.40,78.47 L203.80,78.48 L204.20,78.48 L204.60,78.56 L205.00,78.53 L205.40,78.50 L205.80,78.57 L206.20,78.60 L206.60,78.46 L207.00,78.55 L207.40,78.51 L207.80,78.56 L208.20,78.50 L208.60,78.59 L209.00,78.59 L209.40,78.58 L209.80,78.54 L210.20,78.59 L210.60,78.55 L211.00,78.54 L211.40,78.64 L211.80,78.57 L212.20,78.71 L212.60,78.69 L213.00,78.53 L213.40,78.67 L213.80,78.60 L214.20,78.67 L214.60,78.68 L215.00,78.56 L215.40,78.67 L215.80,78.68 L216.20,78.76 L216.60,78.64 L217.00,78.76 L217.40,78.65 L217.80,78.70 L218.20,78.68 L218.60,78.82 L219.00,78.78 L219.40,78.89 L219.80,78.79 L220.20,78.81 L220.60,78.82 L221.00,78.74 L221.40,78.77 L221.80,76.37 L222.20,73.99 L222.60,74.82 L223.00,75.48 L223.40,76.08 L223.80,76.48 L224.20,76.89 L224.60,77.24 L225.00,77.50 L225.40,77.67 L225.80,77.97 L226.20,78.00 L226.60,78.14 L227.00,78.25 L227.40,78.48 L227.80,78.48 L228.20,78.51 L228.60,78.56 L229.00,78.70 L229.40,78.65 L229.80,78.68 L230.20,78.82 L230.60,78.74 L231.00,78.82 L231.40,78.85 L231.80,78.85 L232.20,78.89 L232.60,78.98 L233.00,78.89 L233.40,78.85 L233.80,78.83 L234.20,78.94 L234.60,78.94 L235.00,78.98 L235.40,78.95 L235.80,78.96 L236.20,78.95 L236.60,78.97 L237.00,79.02 L237.40,78.99 L237.80,79.03 L238.20,79.14 L238.60,79.06 L239.00,78.95 L239.40,79.15 L239.80,79.07 L240.20,79.00 L240.60,79.12 L241.00,79.07 L241.40,79.04 L241.80,79.05 L242.20,79.03 L242.60,79.10 L243.00,79.17 L243.40,79.09 L243.80,79.14 L244.20,79.23" fill="none" stroke="#e04a48" stroke-width="1.0" stroke-linejoin="round"/><path d="M196.20,93.66 L196.60,93.71 L197.00,93.45 L197.40,93.59 L197.80,93.66 L198.20,93.68 L198.60,93.64 L199.00,93.69 L199.40,93.63 L199.80,93.68 L200.20,93.75 L200.60,93.83 L201.00,94.06 L201.40,94.34 L201.80,94.37 L202.20,94.39 L202.60,94.19 L203.00,94.00 L203.40,93.73 L203.80,91.93 L204.20,90.10 L204.60,90.58 L205.00,91.06 L205.40,91.43 L205.80,91.63 L206.20,91.89 L206.60,92.25 L207.00,92.37 L207.40,92.66 L207.80,92.76 L208.20,92.87 L208.60,92.97 L209.00,93.11 L209.40,93.12 L209.80,93.26 L210.20,93.22 L210.60,93.29 L211.00,93.31 L211.40,93.42 L211.80,93.42 L212.20,93.39 L212.60,93.58 L213.00,93.46 L213.40,93.49 L213.80,93.54 L214.20,93.63 L214.60,93.53 L215.00,93.59 L215.40,93.56 L215.80,93.47 L216.20,93.61 L216.60,93.63 L217.00,93.56 L217.40,93.58 L217.80,93.49 L218.20,93.49 L218.60,93.56 L219.00,93.63 L219.40,93.56 L219.80,93.61 L220.20,93.65 L220.60,93.60 L221.00,93.63 L221.40,93.68 L221.80,93.52 L222.20,93.64 L222.60,93.48 L223.00,93.62 L223.40,93.61 L223.80,93.57 L224.20,93.18 L224.60,91.84 L225.00,91.70 L225.40,92.00 L225.80,92.17 L226.20,92.45 L226.60,92.53 L227.00,92.71 L227.40,92.83 L227.80,93.04 L228.20,92.96 L228.60,93.11 L229.00,93.27 L229.40,93.22 L229.80,93.23 L230.20,93.36 L230.60,93.37 L231.00,93.46 L231.40,93.39 L231.80,93.47 L232.20,93.52 L232.60,93.56 L233.00,93.45 L233.40,93.61 L233.80,93.48 L234.20,93.45 L234.60,93.50 L235.00,93.57 L235.40,93.55 L235.80,93.60 L236.20,90.60 L236.60,87.82 L237.00,88.62 L237.40,89.45 L237.80,89.81 L238.20,90.36 L238.60,90.88 L239.00,91.22 L239.40,91.47 L239.80,91.86 L240.20,92.10 L240.60,92.21 L241.00,92.58 L241.40,92.76 L241.80,92.89 L242.20,92.90 L242.60,93.03 L243.00,93.04 L243.40,93.19 L243.80,93.20 L244.20,93.31" fill="none" stroke="#e04a48" stroke-width="1.0" stroke-linejoin="round"/><path d="M283.00,79.00 L283.40,79.02 L283.80,78.98 L284.20,78.95 L284.60,78.97 L285.00,78.94 L285.40,79.00 L285.80,79.08 L286.20,78.97 L286.60,78.96 L287.00,79.03 L287.40,79.02 L287.80,79.01 L288.20,78.94 L288.60,79.00 L289.00,79.04 L289.40,78.92 L289.80,78.97 L290.20,78.89 L290.60,78.92 L291.00,78.89 L291.40,78.99 L291.80,78.92 L292.20,79.02 L292.60,79.01 L293.00,78.99 L293.40,78.85 L293.80,78.97 L294.20,79.00 L294.60,79.01 L295.00,78.91 L295.40,78.97 L295.80,78.94 L296.20,78.95 L296.60,79.06 L297.00,78.95 L297.40,79.00 L297.80,79.05 L298.20,78.96 L298.60,78.99 L299.00,79.01 L299.40,79.00 L299.80,78.93 L300.20,79.00 L300.60,79.08 L301.00,78.91 L301.40,79.05 L301.80,79.01 L302.20,78.96 L302.60,79.12 L303.00,79.05 L303.40,78.93 L303.80,79.00 L304.20,79.03 L304.60,78.99 L305.00,79.04 L305.40,78.56 L305.80,76.87 L306.20,76.82 L306.60,77.07 L307.00,77.44 L307.40,77.66 L307.80,77.91 L308.20,78.01 L308.60,77.87 L309.00,76.69 L309.40,76.78 L309.80,77.17 L310.20,77.34 L310.60,77.63 L311.00,77.94 L311.40,77.96 L311.80,78.21 L312.20,78.36 L312.60,78.54 L313.00,78.60 L313.40,78.61 L313.80,78.67 L314.20,78.73 L314.60,78.88 L315.00,78.80 L315.40,78.83 L315.80,78.90 L316.20,78.89 L316.60,78.90 L317.00,78.86 L317.40,78.94 L317.80,78.92 L318.20,79.03 L318.60,79.00 L319.00,78.97 L319.40,79.02 L319.80,78.96 L320.20,79.05 L320.60,78.99 L321.00,79.02 L321.40,78.91 L321.80,79.01 L322.20,78.89 L322.60,78.87 L323.00,78.98 L323.40,78.94 L323.80,79.01 L324.20,79.13 L324.60,78.95 L325.00,78.96 L325.40,79.01 L325.80,79.03 L326.20,78.99 L326.60,78.99 L327.00,79.04 L327.40,79.03 L327.80,78.94 L328.20,78.99 L328.60,79.00 L329.00,78.94 L329.40,79.02 L329.80,78.95 L330.20,79.06 L330.60,79.01 L331.00,79.01" fill="none" stroke="#e04a48" stroke-width="1.0" stroke-linejoin="round"/><path d="M284.00,93.00 L284.40,93.02 L284.80,93.02 L285.20,93.08 L285.60,92.96 L286.00,93.09 L286.40,93.04 L286.80,93.15 L287.20,93.16 L287.60,93.18 L288.00,93.15 L288.40,93.10 L288.80,93.15 L289.20,93.19 L289.60,93.06 L290.00,93.14 L290.40,93.10 L290.80,93.19 L291.20,93.05 L291.60,93.08 L292.00,93.12 L292.40,93.12 L292.80,93.00 L293.20,93.12 L293.60,93.09 L294.00,93.09 L294.40,93.09 L294.80,93.11 L295.20,92.99 L295.60,93.19 L296.00,93.05 L296.40,92.62 L296.80,91.35 L297.20,91.36 L297.60,91.54 L298.00,91.92 L298.40,92.13 L298.80,92.16 L299.20,92.21 L299.60,92.41 L300.00,92.66 L300.40,92.62 L300.80,92.65 L301.20,92.72 L301.60,92.85 L302.00,92.89 L302.40,92.98 L302.80,93.02 L303.20,92.92 L303.60,92.99 L304.00,92.95 L304.40,93.03 L304.80,92.97 L305.20,92.98 L305.60,93.19 L306.00,93.07 L306.40,93.11 L306.80,93.23 L307.20,93.13 L307.60,93.08 L308.00,93.09 L308.40,93.04 L308.80,93.16 L309.20,93.07 L309.60,93.20 L310.00,93.07 L310.40,93.07 L310.80,93.07 L311.20,93.13 L311.60,93.11 L312.00,93.18 L312.40,93.06 L312.80,93.12 L313.20,93.22 L313.60,93.08 L314.00,93.13 L314.40,93.19 L314.80,93.13 L315.20,93.06 L315.60,92.98 L316.00,93.24 L316.40,93.13 L316.80,93.18 L317.20,93.07 L317.60,93.21 L318.00,93.13 L318.40,93.10 L318.80,93.05 L319.20,93.12 L319.60,93.07 L320.00,93.09 L320.40,93.00 L320.80,93.07 L321.20,93.11 L321.60,93.02 L322.00,93.10 L322.40,93.14 L322.80,93.08 L323.20,93.06 L323.60,93.06 L324.00,93.16 L324.40,93.01 L324.80,93.08 L325.20,93.07 L325.60,93.11 L326.00,93.10 L326.40,93.03 L326.80,93.22 L327.20,93.11 L327.60,93.02 L328.00,93.05 L328.40,93.11 L328.80,93.14 L329.20,93.02 L329.60,93.14 L330.00,93.02 L330.40,93.05 L330.80,93.15 L331.20,93.20 L331.60,93.09" fill="none" stroke="#e04a48" stroke-width="1.0" stroke-linejoin="round"/><path d="M366.20,79.35 L366.60,79.42 L367.00,79.31 L367.40,79.45 L367.80,79.48 L368.20,79.39 L368.60,79.45 L369.00,79.44 L369.40,79.40 L369.80,79.38 L370.20,79.31 L370.60,79.52 L371.00,79.44 L371.40,79.59 L371.80,79.49 L372.20,79.46 L372.60,79.41 L373.00,79.54 L373.40,79.43 L373.80,79.55 L374.20,79.44 L374.60,79.48 L375.00,79.38 L375.40,79.61 L375.80,79.47 L376.20,79.46 L376.60,79.53 L377.00,79.43 L377.40,79.54 L377.80,79.42 L378.20,79.53 L378.60,79.44 L379.00,79.39 L379.40,79.47 L379.80,79.42 L380.20,79.55 L380.60,79.52 L381.00,79.55 L381.40,79.53 L381.80,79.50 L382.20,79.53 L382.60,76.26 L383.00,74.89 L383.40,75.52 L383.80,76.08 L384.20,76.61 L384.60,77.00 L385.00,77.52 L385.40,77.64 L385.80,77.91 L386.20,78.19 L386.60,78.44 L387.00,78.56 L387.40,78.66 L387.80,78.79 L388.20,78.93 L388.60,79.10 L389.00,79.06 L389.40,79.19 L389.80,79.21 L390.20,79.32 L390.60,79.37 L391.00,79.30 L391.40,79.56 L391.80,79.46 L392.20,79.44 L392.60,79.44 L393.00,79.50 L393.40,79.53 L393.80,79.58 L394.20,79.56 L394.60,79.60 L395.00,79.49 L395.40,79.55 L395.80,79.21 L396.20,78.62 L396.60,78.79 L397.00,78.80 L397.40,78.99 L397.80,74.87 L398.20,73.31 L398.60,74.10 L399.00,74.99 L399.40,75.65 L399.80,76.18 L400.20,76.82 L400.60,77.06 L401.00,77.48 L401.40,77.84 L401.80,78.10 L402.20,78.30 L402.60,78.60 L403.00,78.77 L403.40,78.89 L403.80,79.02 L404.20,79.06 L404.60,79.09 L405.00,79.37 L405.40,79.25 L405.80,79.51 L406.20,79.42 L406.60,79.48 L407.00,79.07 L407.40,78.30 L407.80,78.43 L408.20,78.75 L408.60,78.83 L409.00,78.95 L409.40,79.02 L409.80,79.18 L410.20,79.25 L410.60,79.44 L411.00,79.44 L411.40,79.35 L411.80,79.58 L412.20,79.39 L412.60,79.66 L413.00,79.49 L413.40,79.63 L413.80,79.70 L414.20,79.67 L414.60,79.63" fill="none" stroke="#969696" stroke-width="1.0" stroke-linejoin="round"/><path d="M366.20,93.53 L366.60,93.56 L367.00,93.55 L367.40,93.62 L367.80,93.59 L368.20,93.61 L368.60,93.65 L369.00,93.65 L369.40,93.63 L369.80,93.57 L370.20,93.56 L370.60,93.55 L371.00,93.58 L371.40,92.80 L371.80,91.14 L372.20,91.45 L372.60,91.82 L373.00,91.93 L373.40,92.24 L373.80,92.46 L374.20,92.53 L374.60,90.99 L375.00,87.80 L375.40,88.66 L375.80,89.28 L376.20,89.75 L376.60,90.34 L377.00,90.87 L377.40,91.25 L377.80,91.56 L378.20,91.79 L378.60,91.95 L379.00,92.29 L379.40,92.46 L379.80,92.65 L380.20,92.89 L380.60,92.94 L381.00,93.06 L381.40,93.18 L381.80,93.23 L382.20,93.29 L382.60,93.36 L383.00,93.52 L383.40,93.57 L383.80,93.57 L384.20,93.72 L384.60,93.72 L385.00,93.68 L385.40,93.84 L385.80,93.84 L386.20,93.81 L386.60,93.96 L387.00,93.95 L387.40,93.98 L387.80,94.08 L388.20,93.94 L388.60,94.03 L389.00,94.11 L389.40,94.18 L389.80,94.15 L390.20,94.15 L390.60,94.17 L391.00,94.24 L391.40,94.30 L391.80,94.19 L392.20,94.16 L392.60,94.27 L393.00,94.27 L393.40,94.24 L393.80,94.32 L394.20,94.33 L394.60,94.24 L395.00,94.24 L395.40,94.28 L395.80,94.21 L396.20,94.13 L396.60,94.19 L397.00,94.12 L397.40,94.17 L397.80,94.09 L398.20,94.09 L398.60,94.11 L399.00,94.04 L399.40,93.98 L399.80,93.93 L400.20,94.07 L400.60,94.01 L401.00,93.83 L401.40,93.83 L401.80,93.90 L402.20,93.81 L402.60,93.82 L403.00,93.85 L403.40,93.79 L403.80,93.76 L404.20,93.72 L404.60,93.73 L405.00,93.74 L405.40,93.81 L405.80,93.76 L406.20,93.67 L406.60,93.73 L407.00,93.67 L407.40,93.57 L407.80,91.77 L408.20,91.09 L408.60,91.34 L409.00,91.73 L409.40,91.91 L409.80,92.15 L410.20,92.27 L410.60,92.63 L411.00,92.68 L411.40,92.84 L411.80,92.86 L412.20,92.89 L412.60,93.14 L413.00,93.09" fill="none" stroke="#969696" stroke-width="1.0" stroke-linejoin="round"/><path d="M452.70,77.30 L453.10,77.38 L453.50,77.37 L453.90,77.27 L454.30,77.28 L454.70,77.27 L455.10,77.33 L455.50,77.30 L455.90,77.34 L456.30,77.19 L456.70,77.39 L457.10,77.29 L457.50,77.34 L457.90,77.29 L458.30,77.28 L458.70,77.33 L459.10,77.35 L459.50,76.85 L459.90,75.99 L460.30,76.26 L460.70,76.34 L461.10,76.46 L461.50,76.70 L461.90,76.74 L462.30,76.75 L462.70,76.89 L463.10,76.97 L463.50,76.98 L463.90,77.00 L464.30,77.13 L464.70,77.21 L465.10,77.16 L465.50,77.15 L465.90,77.24 L466.30,77.27 L466.70,77.22 L467.10,77.28 L467.50,77.32 L467.90,77.25 L468.30,77.22 L468.70,77.30 L469.10,77.30 L469.50,77.35 L469.90,77.21 L470.30,77.25 L470.70,77.24 L471.10,77.19 L471.50,77.30 L471.90,77.33 L472.30,77.25 L472.70,77.38 L473.10,77.35 L473.50,77.33 L473.90,77.32 L474.30,77.36 L474.70,77.22 L475.10,77.34 L475.50,77.34 L475.90,77.19 L476.30,77.32 L476.70,77.28 L477.10,77.35 L477.50,77.27 L477.90,77.30 L478.30,77.32 L478.70,77.25 L479.10,77.34 L479.50,77.29 L479.90,77.33 L480.30,77.27 L480.70,77.37 L481.10,77.34 L481.50,77.29 L481.90,77.34 L482.30,77.38 L482.70,77.41 L483.10,77.21 L483.50,77.35 L483.90,77.33 L484.30,77.29 L484.70,77.24 L485.10,77.38 L485.50,77.22 L485.90,77.33 L486.30,77.38 L486.70,77.20 L487.10,77.28 L487.50,77.22 L487.90,77.31 L488.30,76.96 L488.70,75.25 L489.10,74.92 L489.50,75.37 L489.90,75.77 L490.30,76.08 L490.70,76.23 L491.10,76.34 L491.50,76.56 L491.90,76.66 L492.30,76.76 L492.70,76.81 L493.10,76.96 L493.50,77.01 L493.90,77.04 L494.30,77.07 L494.70,77.04 L495.10,77.12 L495.50,77.25 L495.90,77.19 L496.30,77.13 L496.70,77.31 L497.10,77.27 L497.50,77.38 L497.90,77.26 L498.30,77.24 L498.70,77.18 L499.10,77.36 L499.50,77.43 L499.90,77.23 L500.30,77.25 L500.70,77.32" fill="none" stroke="#969696" stroke-width="1.0" stroke-linejoin="round"/><path d="M453.00,93.10 L453.40,93.16 L453.80,93.14 L454.20,93.14 L454.60,93.20 L455.00,93.03 L455.40,93.06 L455.80,93.02 L456.20,92.78 L456.60,91.58 L457.00,91.44 L457.40,91.75 L457.80,91.83 L458.20,92.15 L458.60,92.24 L459.00,92.54 L459.40,92.60 L459.80,92.69 L460.20,92.71 L460.60,92.81 L461.00,92.87 L461.40,92.85 L461.80,92.88 L462.20,92.94 L462.60,92.58 L463.00,91.21 L463.40,91.16 L463.80,91.45 L464.20,91.81 L464.60,91.89 L465.00,92.22 L465.40,92.29 L465.80,92.42 L466.20,92.48 L466.60,92.64 L467.00,92.71 L467.40,92.80 L467.80,92.81 L468.20,92.89 L468.60,93.03 L469.00,92.97 L469.40,92.94 L469.80,93.05 L470.20,93.00 L470.60,92.06 L471.00,91.71 L471.40,91.88 L471.80,91.99 L472.20,92.25 L472.60,92.44 L473.00,92.50 L473.40,92.65 L473.80,92.76 L474.20,92.73 L474.60,92.90 L475.00,92.97 L475.40,92.97 L475.80,93.01 L476.20,93.03 L476.60,93.12 L477.00,93.02 L477.40,92.56 L477.80,90.74 L478.20,90.55 L478.60,90.92 L479.00,91.31 L479.40,91.67 L479.80,91.92 L480.20,92.00 L480.60,92.15 L481.00,92.38 L481.40,92.51 L481.80,92.61 L482.20,92.73 L482.60,92.84 L483.00,92.83 L483.40,92.90 L483.80,92.84 L484.20,92.87 L484.60,92.98 L485.00,93.03 L485.40,93.05 L485.80,93.06 L486.20,93.08 L486.60,93.09 L487.00,92.95 L487.40,93.02 L487.80,93.10 L488.20,93.11 L488.60,92.99 L489.00,91.79 L489.40,88.96 L489.80,89.65 L490.20,90.26 L490.60,90.76 L491.00,91.03 L491.40,91.50 L491.80,91.72 L492.20,91.90 L492.60,92.12 L493.00,92.17 L493.40,92.39 L493.80,92.55 L494.20,92.59 L494.60,92.69 L495.00,92.77 L495.40,92.83 L495.80,92.94 L496.20,92.91 L496.60,92.93 L497.00,93.00 L497.40,93.12 L497.80,92.99 L498.20,93.06 L498.60,92.94 L499.00,93.13 L499.40,93.10" fill="none" stroke="#969696" stroke-width="1.0" stroke-linejoin="round"/><path d="M543.90,79.71 L544.30,79.41 L544.70,79.65 L545.10,79.59 L545.50,79.66 L545.90,79.60 L546.30,79.68 L546.70,79.57 L547.10,79.53 L547.50,79.59 L547.90,79.58 L548.30,79.53 L548.70,79.53 L549.10,79.58 L549.50,79.58 L549.90,79.50 L550.30,79.50 L550.70,79.41 L551.10,79.61 L551.50,79.30 L551.90,78.98 L552.30,79.03 L552.70,79.20 L553.10,79.24 L553.50,79.22 L553.90,78.74 L554.30,78.08 L554.70,78.44 L555.10,78.46 L555.50,78.73 L555.90,78.90 L556.30,77.45 L556.70,71.50 L557.10,71.24 L557.50,72.68 L557.90,73.92 L558.30,74.88 L558.70,75.60 L559.10,76.20 L559.50,76.85 L559.90,77.17 L560.30,77.59 L560.70,77.89 L561.10,78.22 L561.50,78.40 L561.90,78.58 L562.30,78.71 L562.70,78.77 L563.10,78.93 L563.50,79.06 L563.90,79.04 L564.30,79.13 L564.70,79.12 L565.10,77.79 L565.50,72.06 L565.90,71.81 L566.30,73.09 L566.70,74.25 L567.10,75.02 L567.50,75.76 L567.90,76.35 L568.30,76.93 L568.70,77.27 L569.10,77.61 L569.50,77.97 L569.90,78.23 L570.30,78.39 L570.70,78.35 L571.10,78.58 L571.50,78.68 L571.90,78.76 L572.30,78.87 L572.70,79.07 L573.10,78.99 L573.50,79.00 L573.90,79.11 L574.30,79.10 L574.70,79.12 L575.10,79.09 L575.50,79.14 L575.90,73.58 L576.30,71.41 L576.70,72.75 L577.10,74.01 L577.50,74.90 L577.90,75.57 L578.30,76.16 L578.70,76.72 L579.10,77.08 L579.50,77.48 L579.90,77.88 L580.30,78.03 L580.70,78.28 L581.10,73.56 L581.50,71.98 L581.90,73.28 L582.30,74.15 L582.70,75.05 L583.10,75.76 L583.50,76.37 L583.90,76.92 L584.30,77.26 L584.70,77.45 L585.10,77.79 L585.50,77.98 L585.90,78.16 L586.30,78.48 L586.70,78.42 L587.10,78.60 L587.50,78.62 L587.90,78.78" fill="none" stroke="#4a4ad8" stroke-width="1.0" stroke-linejoin="round"/><path d="M543.90,92.74 L544.30,92.64 L544.70,92.61 L545.10,92.52 L545.50,92.68 L545.90,92.77 L546.30,92.70 L546.70,92.73 L547.10,92.76 L547.50,92.65 L547.90,92.86 L548.30,92.65 L548.70,92.72 L549.10,88.46 L549.50,86.72 L549.90,87.82 L550.30,88.67 L550.70,89.44 L551.10,89.89 L551.50,90.46 L551.90,91.00 L552.30,91.24 L552.70,91.48 L553.10,90.74 L553.50,88.92 L553.90,89.60 L554.30,90.19 L554.70,90.52 L555.10,91.04 L555.50,90.28 L555.90,89.73 L556.30,90.25 L556.70,90.66 L557.10,91.11 L557.50,91.39 L557.90,91.80 L558.30,91.98 L558.70,92.25 L559.10,92.33 L559.50,92.67 L559.90,92.71 L560.30,92.95 L560.70,93.05 L561.10,93.05 L561.50,93.23 L561.90,93.26 L562.30,93.38 L562.70,93.48 L563.10,93.46 L563.50,93.48 L563.90,93.33 L564.30,93.39 L564.70,93.35 L565.10,93.34 L565.50,93.18 L565.90,93.19 L566.30,93.11 L566.70,92.93 L567.10,92.91 L567.50,92.94 L567.90,92.80 L568.30,92.76 L568.70,92.85 L569.10,92.79 L569.50,92.54 L569.90,92.14 L570.30,92.21 L570.70,92.28 L571.10,92.35 L571.50,92.46 L571.90,89.50 L572.30,83.29 L572.70,85.02 L573.10,86.40 L573.50,87.48 L573.90,88.50 L574.30,89.30 L574.70,89.82 L575.10,90.44 L575.50,90.77 L575.90,91.22 L576.30,91.50 L576.70,91.64 L577.10,91.73 L577.50,91.98 L577.90,92.05 L578.30,92.15 L578.70,92.30 L579.10,92.47 L579.50,92.44 L579.90,92.48 L580.30,92.42 L580.70,92.52 L581.10,92.50 L581.50,92.64 L581.90,92.59 L582.30,92.63 L582.70,92.65 L583.10,92.65 L583.50,92.72 L583.90,92.70 L584.30,92.66 L584.70,92.69 L585.10,92.72 L585.50,92.77 L585.90,92.70 L586.30,92.78 L586.70,92.66 L587.10,92.68 L587.50,92.61 L587.90,92.75 L588.30,92.63" fill="none" stroke="#4a4ad8" stroke-width="1.0" stroke-linejoin="round"/><path d="M631.10,78.51 L631.50,78.54 L631.90,78.62 L632.30,78.57 L632.70,78.63 L633.10,78.65 L633.50,78.51 L633.90,78.66 L634.30,78.56 L634.70,78.73 L635.10,78.64 L635.50,78.57 L635.90,78.61 L636.30,76.66 L636.70,74.89 L637.10,75.58 L637.50,76.04 L637.90,76.54 L638.30,76.84 L638.70,77.09 L639.10,77.26 L639.50,77.46 L639.90,77.74 L640.30,77.92 L640.70,78.08 L641.10,78.06 L641.50,78.18 L641.90,78.20 L642.30,78.28 L642.70,78.22 L643.10,78.44 L643.50,75.59 L643.90,74.62 L644.30,75.31 L644.70,75.86 L645.10,76.22 L645.50,76.77 L645.90,77.04 L646.30,77.29 L646.70,77.45 L647.10,77.58 L647.50,77.73 L647.90,77.94 L648.30,78.07 L648.70,78.11 L649.10,78.34 L649.50,78.31 L649.90,78.40 L650.30,78.44 L650.70,78.36 L651.10,78.51 L651.50,78.50 L651.90,78.42 L652.30,78.56 L652.70,78.59 L653.10,78.60 L653.50,78.61 L653.90,78.47 L654.30,78.55 L654.70,78.54 L655.10,78.58 L655.50,78.59 L655.90,78.65 L656.30,77.96 L656.70,77.63 L657.10,77.88 L657.50,78.05 L657.90,78.08 L658.30,78.06 L658.70,78.19 L659.10,78.28 L659.50,78.24 L659.90,78.38 L660.30,78.34 L660.70,78.50 L661.10,78.52 L661.50,78.49 L661.90,78.44 L662.30,78.54 L662.70,78.50 L663.10,78.51 L663.50,78.62 L663.90,78.52 L664.30,78.49 L664.70,78.62 L665.10,78.69 L665.50,78.68 L665.90,78.63 L666.30,78.71 L666.70,78.57 L667.10,78.72 L667.50,78.72 L667.90,78.57 L668.30,78.62 L668.70,78.52 L669.10,78.54 L669.50,78.63 L669.90,78.53 L670.30,78.61" fill="none" stroke="#4a4ad8" stroke-width="1.0" stroke-linejoin="round"/><path d="M631.10,92.66 L631.50,92.74 L631.90,92.76 L632.30,92.76 L632.70,92.81 L633.10,92.68 L633.50,92.73 L633.90,92.68 L634.30,92.61 L634.70,92.66 L635.10,92.71 L635.50,92.65 L635.90,92.69 L636.30,92.77 L636.70,92.73 L637.10,92.73 L637.50,92.72 L637.90,92.69 L638.30,92.59 L638.70,92.76 L639.10,92.61 L639.50,92.71 L639.90,92.69 L640.30,92.71 L640.70,92.72 L641.10,92.68 L641.50,92.75 L641.90,92.62 L642.30,92.75 L642.70,92.60 L643.10,92.77 L643.50,92.67 L643.90,92.72 L644.30,92.79 L644.70,92.57 L645.10,92.68 L645.50,92.73 L645.90,92.75 L646.30,92.78 L646.70,92.74 L647.10,92.73 L647.50,92.71 L647.90,92.72 L648.30,92.70 L648.70,92.76 L649.10,92.71 L649.50,92.74 L649.90,92.80 L650.30,92.77 L650.70,92.68 L651.10,92.69 L651.50,92.74 L651.90,92.66 L652.30,92.59 L652.70,92.64 L653.10,92.73 L653.50,92.69 L653.90,92.68 L654.30,92.74 L654.70,92.64 L655.10,92.84 L655.50,92.70 L655.90,92.68 L656.30,92.82 L656.70,92.63 L657.10,92.67 L657.50,90.79 L657.90,89.01 L658.30,89.65 L658.70,90.21 L659.10,90.61 L659.50,90.94 L659.90,91.30 L660.30,91.59 L660.70,91.78 L661.10,91.73 L661.50,92.08 L661.90,92.16 L662.30,92.23 L662.70,92.23 L663.10,92.33 L663.50,92.40 L663.90,92.38 L664.30,92.58 L664.70,91.79 L665.10,91.47 L665.50,91.61 L665.90,91.92 L666.30,92.02 L666.70,92.17 L667.10,92.18 L667.50,92.43 L667.90,92.35 L668.30,92.53 L668.70,92.34 L669.10,92.52 L669.50,92.54 L669.90,92.41 L670.30,92.55" fill="none" stroke="#4a4ad8" stroke-width="1.0" stroke-linejoin="round"/><path d="M10.6,68.4 V95.8" stroke="#555" stroke-width="1.3"/><text transform="translate(6.6,82.1) rotate(-90)" font-size="8.3" text-anchor="middle" fill="#222" stroke="#222">8 mV</text><path d="M54,126.6 H78" stroke="#555" stroke-width="1.3"/><text x="67" y="121.5" font-size="8.3" text-anchor="middle" fill="#222" stroke="#222">50 ms</text><path d="M165,76.1 V93.6" stroke="#555" stroke-width="1.3"/><text transform="translate(174,85.6) rotate(-90)" font-size="7.6" text-anchor="middle" fill="#222" stroke="#222">1 mV</text><path d="M138,98.5 H162" stroke="#222" stroke-width="1.3"/><text x="151.4" y="107.7" font-size="8.3" text-anchor="middle" fill="#222" stroke="#222">250 ms</text><text x="0" y="166.7" font-size="14.5" font-weight="bold" stroke="#000">b</text><text x="240" y="166.9" font-size="14.5" font-weight="bold" stroke="#000">c</text><text x="461.6" y="166.4" font-size="14.5" font-weight="bold" stroke="#000">d</text><rect x="67.4" y="170.9" width="15.4" height="14.5" fill="#000"/><text x="86.9" y="180.1" font-size="9.85" stroke="#000">Baseline</text><rect x="135.0" y="171.5" width="14.2" height="13.4" fill="#fff" stroke="#000" stroke-width="1.2"/><text x="152.10000000000002" y="180.8" font-size="9.85" stroke="#000">+PhTx</text><rect x="299.9" y="169.1" width="15.4" height="14.5" fill="#000"/><text x="318.5" y="179.0" font-size="9.85" stroke="#000">Baseline</text><rect x="367.40000000000003" y="169.7" width="14.2" height="13.4" fill="#fff" stroke="#000" stroke-width="1.2"/><text x="387.59999999999997" y="179.0" font-size="9.85" stroke="#000">+PhTx</text><rect x="527.4" y="169.1" width="15.4" height="14.5" fill="#000"/><text x="545.8" y="177.9" font-size="9.85" stroke="#000">mEPSP</text><rect x="590.1" y="169.7" width="14.2" height="13.4" fill="#fff" stroke="#000" stroke-width="1.2"/><text x="608.2" y="173.7" font-size="9.95" stroke="#000">Quantal</text><text x="608.2" y="184.4" font-size="9.95" stroke="#000">content</text><path d="M49.6,188 V265.4 H215.7" stroke="#000" stroke-width="1.2" fill="none"/><path d="M46.2,188.4 H49.6" stroke="#000" stroke-width="1.1"/><path d="M46.2,210.5 H49.6" stroke="#000" stroke-width="1.1"/><text x="41.800000000000004" y="213.9" font-size="9.4" text-anchor="end" stroke="#000">1.0</text><path d="M46.2,237.8 H49.6" stroke="#000" stroke-width="1.1"/><text x="41.800000000000004" y="241.20000000000002" font-size="9.4" text-anchor="end" stroke="#000">0.5</text><path d="M46.2,265.2 H49.6" stroke="#000" stroke-width="1.1"/><text x="41.800000000000004" y="268.59999999999997" font-size="9.4" text-anchor="end" stroke="#000">0.0</text><text transform="translate(20.1,227.8) rotate(-90)" font-size="9.9" text-anchor="middle" stroke="#000">mEPSP (mV)</text><rect x="55.60" y="212.50" width="14.00" height="52.50" fill="#000" stroke="#000" stroke-width="1"/><path d="M62.60,212.50 V209.60 M58.90,209.60 H66.30" stroke="#000" stroke-width="1.1" fill="none"/><rect x="71.60" y="236.60" width="14.00" height="28.40" fill="#fff" stroke="#000" stroke-width="1"/><path d="M78.60,236.60 V234.40 M74.90,234.40 H82.30" stroke="#000" stroke-width="1.1" fill="none"/><rect x="96.60" y="242.00" width="13.90" height="23.00" fill="#000" stroke="#000" stroke-width="1"/><path d="M103.55,242.00 V239.80 M99.85,239.80 H107.25" stroke="#000" stroke-width="1.1" fill="none"/><rect x="113.70" y="250.00" width="13.80" height="15.00" fill="#ff2a10" stroke="#000" stroke-width="1"/><path d="M120.60,250.00 V248.40 M116.90,248.40 H124.30" stroke="#000" stroke-width="1.1" fill="none"/><rect x="138.40" y="237.80" width="13.30" height="27.20" fill="#000" stroke="#000" stroke-width="1"/><path d="M145.05,237.80 V235.10 M141.35,235.10 H148.75" stroke="#000" stroke-width="1.1" fill="none"/><rect x="155.10" y="245.90" width="13.20" height="19.10" fill="#b0b0b0" stroke="#000" stroke-width="1"/><path d="M161.70,245.90 V243.80 M158.00,243.80 H165.40" stroke="#000" stroke-width="1.1" fill="none"/><rect x="179.70" y="214.60" width="13.80" height="50.40" fill="#000" stroke="#000" stroke-width="1"/><path d="M186.60,214.60 V208.20 M182.90,208.20 H190.30" stroke="#000" stroke-width="1.1" fill="none"/><rect x="196.80" y="239.90" width="13.50" height="25.10" fill="#1040f8" stroke="#000" stroke-width="1"/><path d="M203.55,239.90 V237.20 M199.85,237.20 H207.25" stroke="#000" stroke-width="1.1" fill="none"/><polygon points="72.12,225.75 72.70,227.31 74.36,227.37 73.06,228.40 73.51,230.00 72.12,229.08 70.74,230.00 71.19,228.40 69.89,227.37 71.55,227.31" fill="#111"/><polygon points="76.97,225.75 77.55,227.31 79.21,227.37 77.91,228.40 78.36,230.00 76.97,229.08 75.59,230.00 76.04,228.40 74.74,227.37 76.40,227.31" fill="#111"/><polygon points="81.83,225.75 82.40,227.31 84.06,227.37 82.76,228.40 83.21,230.00 81.83,229.08 80.44,230.00 80.89,228.40 79.59,227.37 81.25,227.31" fill="#111"/><polygon points="86.67,225.75 87.25,227.31 88.91,227.37 87.61,228.40 88.06,230.00 86.67,229.08 85.29,230.00 85.74,228.40 84.44,227.37 86.10,227.31" fill="#111"/><polygon points="116.22,239.25 116.80,240.81 118.46,240.87 117.16,241.90 117.61,243.50 116.22,242.58 114.84,243.50 115.29,241.90 113.99,240.87 115.65,240.81" fill="#111"/><polygon points="121.07,239.25 121.65,240.81 123.31,240.87 122.01,241.90 122.46,243.50 121.07,242.58 119.69,243.50 120.14,241.90 118.84,240.87 120.50,240.81" fill="#111"/><polygon points="125.92,239.25 126.50,240.81 128.16,240.87 126.86,241.90 127.31,243.50 125.92,242.58 124.54,243.50 124.99,241.90 123.69,240.87 125.35,240.81" fill="#111"/><polygon points="130.78,239.25 131.35,240.81 133.01,240.87 131.71,241.90 132.16,243.50 130.78,242.58 129.39,243.50 129.84,241.90 128.54,240.87 130.20,240.81" fill="#111"/><polygon points="161.17,233.45 161.75,235.01 163.41,235.07 162.11,236.10 162.56,237.70 161.17,236.78 159.79,237.70 160.24,236.10 158.94,235.07 160.60,235.01" fill="#111"/><polygon points="166.02,233.45 166.60,235.01 168.26,235.07 166.96,236.10 167.41,237.70 166.02,236.78 164.64,237.70 165.09,236.10 163.79,235.07 165.45,235.01" fill="#111"/><polygon points="198.42,225.95 199.00,227.51 200.66,227.57 199.36,228.60 199.81,230.20 198.42,229.28 197.04,230.20 197.49,228.60 196.19,227.57 197.85,227.51" fill="#111"/><polygon points="203.27,225.95 203.85,227.51 205.51,227.57 204.21,228.60 204.66,230.20 203.27,229.28 201.89,230.20 202.34,228.60 201.04,227.57 202.70,227.51" fill="#111"/><polygon points="208.12,225.95 208.70,227.51 210.36,227.57 209.06,228.60 209.51,230.20 208.12,229.28 206.74,230.20 207.19,228.60 205.89,227.57 207.55,227.51" fill="#111"/><polygon points="212.97,225.95 213.55,227.51 215.21,227.57 213.91,228.60 214.36,230.20 212.97,229.28 211.59,230.20 212.04,228.60 210.74,227.57 212.40,227.51" fill="#111"/><path d="M272.7,188 V265.3 H439.2" stroke="#000" stroke-width="1.2" fill="none"/><path d="M269.3,188.4 H272.7" stroke="#000" stroke-width="1.1"/><path d="M269.3,204.5 H272.7" stroke="#000" stroke-width="1.1"/><text x="264.9" y="207.9" font-size="9.4" text-anchor="end" stroke="#000">20</text><path d="M269.3,234.3 H272.7" stroke="#000" stroke-width="1.1"/><text x="264.9" y="237.70000000000002" font-size="9.4" text-anchor="end" stroke="#000">10</text><path d="M269.3,265.1 H272.7" stroke="#000" stroke-width="1.1"/><text x="264.9" y="268.5" font-size="9.4" text-anchor="end" stroke="#000">0</text><text transform="translate(248.8,226.75) rotate(-90)" font-size="9.6" text-anchor="middle" stroke="#000">EPSP (mV)</text><rect x="278.50" y="195.70" width="13.50" height="69.10" fill="#000" stroke="#000" stroke-width="1"/><path d="M285.25,195.70 V192.60 M281.55,192.60 H288.95" stroke="#000" stroke-width="1.1" fill="none"/><rect x="295.10" y="200.60" width="12.90" height="64.20" fill="#fff" stroke="#000" stroke-width="1"/><path d="M301.55,200.60 V197.90 M297.85,197.90 H305.25" stroke="#000" stroke-width="1.1" fill="none"/><rect x="319.60" y="247.10" width="13.70" height="17.70" fill="#000" stroke="#000" stroke-width="1"/><path d="M326.45,247.10 V244.30 M322.75,244.30 H330.15" stroke="#000" stroke-width="1.1" fill="none"/><rect x="336.70" y="259.00" width="13.40" height="5.80" fill="#ff2a10" stroke="#000" stroke-width="1"/><path d="M343.40,259.00 V256.40 M339.70,256.40 H347.10" stroke="#000" stroke-width="1.1" fill="none"/><rect x="361.50" y="229.10" width="13.50" height="35.70" fill="#000" stroke="#000" stroke-width="1"/><path d="M368.25,229.10 V224.50 M364.55,224.50 H371.95" stroke="#000" stroke-width="1.1" fill="none"/><rect x="378.10" y="247.60" width="13.30" height="17.20" fill="#b0b0b0" stroke="#000" stroke-width="1"/><path d="M384.75,247.60 V244.10 M381.05,244.10 H388.45" stroke="#000" stroke-width="1.1" fill="none"/><rect x="402.60" y="215.40" width="13.90" height="49.40" fill="#000" stroke="#000" stroke-width="1"/><path d="M409.55,215.40 V210.10 M405.85,210.10 H413.25" stroke="#000" stroke-width="1.1" fill="none"/><rect x="419.60" y="225.50" width="13.60" height="39.30" fill="#1040f8" stroke="#000" stroke-width="1"/><path d="M426.40,225.50 V222.60 M422.70,222.60 H430.10" stroke="#000" stroke-width="1.1" fill="none"/><text x="302.20" y="193.40" font-size="9.85" text-anchor="middle" stroke="#000">NS</text><polygon points="336.43,248.85 337.00,250.41 338.66,250.47 337.36,251.50 337.81,253.10 336.43,252.18 335.04,253.10 335.49,251.50 334.19,250.47 335.85,250.41" fill="#111"/><polygon points="341.28,248.85 341.85,250.41 343.51,250.47 342.21,251.50 342.66,253.10 341.28,252.18 339.89,253.10 340.34,251.50 339.04,250.47 340.70,250.41" fill="#111"/><polygon points="346.12,248.85 346.70,250.41 348.36,250.47 347.06,251.50 347.51,253.10 346.12,252.18 344.74,253.10 345.19,251.50 343.89,250.47 345.55,250.41" fill="#111"/><polygon points="350.98,248.85 351.55,250.41 353.21,250.47 351.91,251.50 352.36,253.10 350.98,252.18 349.59,253.10 350.04,251.50 348.74,250.47 350.40,250.41" fill="#111"/><polygon points="383.47,235.25 384.05,236.81 385.71,236.87 384.41,237.90 384.86,239.50 383.47,238.58 382.09,239.50 382.54,237.90 381.24,236.87 382.90,236.81" fill="#111"/><polygon points="388.32,235.25 388.90,236.81 390.56,236.87 389.26,237.90 389.71,239.50 388.32,238.58 386.94,239.50 387.39,237.90 386.09,236.87 387.75,236.81" fill="#111"/><text x="426.40" y="217.50" font-size="9.85" text-anchor="middle" stroke="#000">NS</text><path d="M502.6,225.8 H647" stroke="#5a5a5a" stroke-width="0.95" stroke-dasharray="2.7,1.05"/><path d="M500.8,187 V264.9 H666.5" stroke="#000" stroke-width="1.2" fill="none"/><path d="M497.40000000000003,187.3 H500.8" stroke="#000" stroke-width="1.1"/><text x="493.0" y="190.70000000000002" font-size="9.4" text-anchor="end" stroke="#000">200</text><path d="M497.40000000000003,206.1 H500.8" stroke="#000" stroke-width="1.1"/><text x="493.0" y="209.5" font-size="9.4" text-anchor="end" stroke="#000">150</text><path d="M497.40000000000003,225.3 H500.8" stroke="#000" stroke-width="1.1"/><text x="493.0" y="228.70000000000002" font-size="9.4" text-anchor="end" stroke="#000">100</text><path d="M497.40000000000003,245.3 H500.8" stroke="#000" stroke-width="1.1"/><text x="493.0" y="248.70000000000002" font-size="9.4" text-anchor="end" stroke="#000">50</text><path d="M497.40000000000003,264.5 H500.8" stroke="#000" stroke-width="1.1"/><text x="493.0" y="267.9" font-size="9.4" text-anchor="end" stroke="#000">0</text><text transform="translate(469.9,226.8) rotate(-90)" font-size="9.9" text-anchor="middle" stroke="#000">% baseline</text><rect x="506.60" y="243.70" width="13.80" height="20.70" fill="#000" stroke="#000" stroke-width="1"/><path d="M513.50,243.70 V241.40 M510.00,241.40 H517.00" stroke="#000" stroke-width="1.1" fill="none"/><rect x="522.80" y="200.60" width="13.90" height="63.80" fill="#fff" stroke="#000" stroke-width="1"/><path d="M529.75,200.60 V196.40 M526.25,196.40 H533.25" stroke="#000" stroke-width="1.1" fill="none"/><rect x="547.90" y="239.40" width="13.70" height="25.00" fill="#000" stroke="#000" stroke-width="1"/><path d="M554.75,239.40 V238.10 M551.25,238.10 H558.25" stroke="#000" stroke-width="1.1" fill="none"/><rect x="564.80" y="243.70" width="13.20" height="20.70" fill="#ff2a10" stroke="#000" stroke-width="1"/><path d="M571.40,243.70 V239.40 M567.90,239.40 H574.90" stroke="#000" stroke-width="1.1" fill="none"/><rect x="589.50" y="238.00" width="14.10" height="26.40" fill="#000" stroke="#000" stroke-width="1"/><path d="M596.55,238.00 V235.50 M593.05,235.50 H600.05" stroke="#000" stroke-width="1.1" fill="none"/><rect x="606.00" y="238.60" width="13.60" height="25.80" fill="#b0b0b0" stroke="#000" stroke-width="1"/><path d="M612.80,238.60 V233.50 M609.30,233.50 H616.30" stroke="#000" stroke-width="1.1" fill="none"/><rect x="630.90" y="245.60" width="13.80" height="18.80" fill="#000" stroke="#000" stroke-width="1"/><path d="M637.80,245.60 V242.50 M634.30,242.50 H641.30" stroke="#000" stroke-width="1.1" fill="none"/><rect x="647.60" y="207.40" width="13.90" height="57.00" fill="#1040f8" stroke="#000" stroke-width="1"/><path d="M654.55,207.40 V203.60 M651.05,203.60 H658.05" stroke="#000" stroke-width="1.1" fill="none"/><polygon points="504.33,232.25 504.90,233.81 506.56,233.87 505.26,234.90 505.71,236.50 504.33,235.58 502.94,236.50 503.39,234.90 502.09,233.87 503.75,233.81" fill="#111"/><polygon points="509.18,232.25 509.75,233.81 511.41,233.87 510.11,234.90 510.56,236.50 509.18,235.58 507.79,236.50 508.24,234.90 506.94,233.87 508.60,233.81" fill="#111"/><polygon points="514.03,232.25 514.60,233.81 516.26,233.87 514.96,234.90 515.41,236.50 514.03,235.58 512.64,236.50 513.09,234.90 511.79,233.87 513.45,233.81" fill="#111"/><polygon points="518.88,232.25 519.45,233.81 521.11,233.87 519.81,234.90 520.26,236.50 518.88,235.58 517.49,236.50 517.94,234.90 516.64,233.87 518.30,233.81" fill="#111"/><polygon points="522.12,188.85 522.70,190.41 524.36,190.47 523.06,191.50 523.51,193.10 522.12,192.18 520.74,193.10 521.19,191.50 519.89,190.47 521.55,190.41" fill="#111"/><polygon points="526.98,188.85 527.55,190.41 529.21,190.47 527.91,191.50 528.36,193.10 526.98,192.18 525.59,193.10 526.04,191.50 524.74,190.47 526.40,190.41" fill="#111"/><polygon points="531.83,188.85 532.40,190.41 534.06,190.47 532.76,191.50 533.21,193.10 531.83,192.18 530.44,193.10 530.89,191.50 529.59,190.47 531.25,190.41" fill="#111"/><polygon points="536.67,188.85 537.25,190.41 538.91,190.47 537.61,191.50 538.06,193.10 536.67,192.18 535.29,193.10 535.74,191.50 534.44,190.47 536.10,190.41" fill="#111"/><polygon points="548.02,228.55 548.60,230.11 550.26,230.17 548.96,231.20 549.41,232.80 548.02,231.88 546.64,232.80 547.09,231.20 545.79,230.17 547.45,230.11" fill="#111"/><polygon points="552.88,228.55 553.45,230.11 555.11,230.17 553.81,231.20 554.26,232.80 552.88,231.88 551.49,232.80 551.94,231.20 550.64,230.17 552.30,230.11" fill="#111"/><polygon points="557.73,228.55 558.30,230.11 559.96,230.17 558.66,231.20 559.11,232.80 557.73,231.88 556.34,232.80 556.79,231.20 555.49,230.17 557.15,230.11" fill="#111"/><polygon points="562.57,228.55 563.15,230.11 564.81,230.17 563.51,231.20 563.96,232.80 562.57,231.88 561.19,232.80 561.64,231.20 560.34,230.17 562.00,230.11" fill="#111"/><polygon points="569.08,231.35 569.65,232.91 571.31,232.97 570.01,234.00 570.46,235.60 569.08,234.68 567.69,235.60 568.14,234.00 566.84,232.97 568.50,232.91" fill="#111"/><polygon points="573.93,231.35 574.50,232.91 576.16,232.97 574.86,234.00 575.31,235.60 573.93,234.68 572.54,235.60 572.99,234.00 571.69,232.97 573.35,232.91" fill="#111"/><polygon points="593.08,226.85 593.65,228.41 595.31,228.47 594.01,229.50 594.46,231.10 593.08,230.18 591.69,231.10 592.14,229.50 590.84,228.47 592.50,228.41" fill="#111"/><polygon points="597.93,226.85 598.50,228.41 600.16,228.47 598.86,229.50 599.31,231.10 597.93,230.18 596.54,231.10 596.99,229.50 595.69,228.47 597.35,228.41" fill="#111"/><text x="614.10" y="229.10" font-size="9.85" text-anchor="middle" stroke="#000">NS</text><polygon points="628.73,231.75 629.30,233.31 630.96,233.37 629.66,234.40 630.11,236.00 628.73,235.08 627.34,236.00 627.79,234.40 626.49,233.37 628.15,233.31" fill="#111"/><polygon points="633.58,231.75 634.15,233.31 635.81,233.37 634.51,234.40 634.96,236.00 633.58,235.08 632.19,236.00 632.64,234.40 631.34,233.37 633.00,233.31" fill="#111"/><polygon points="638.43,231.75 639.00,233.31 640.66,233.37 639.36,234.40 639.81,236.00 638.43,235.08 637.04,236.00 637.49,234.40 636.19,233.37 637.85,233.31" fill="#111"/><polygon points="643.27,231.75 643.85,233.31 645.51,233.37 644.21,234.40 644.66,236.00 643.27,235.08 641.89,236.00 642.34,234.40 641.04,233.37 642.70,233.31" fill="#111"/><polygon points="652.18,195.35 652.75,196.91 654.41,196.97 653.11,198.00 653.56,199.60 652.18,198.68 650.79,199.60 651.24,198.00 649.94,196.97 651.60,196.91" fill="#111"/><polygon points="657.03,195.35 657.60,196.91 659.26,196.97 657.96,198.00 658.41,199.60 657.03,198.68 655.64,199.60 656.09,198.00 654.79,196.97 656.45,196.91" fill="#111"/></svg></body></html>
